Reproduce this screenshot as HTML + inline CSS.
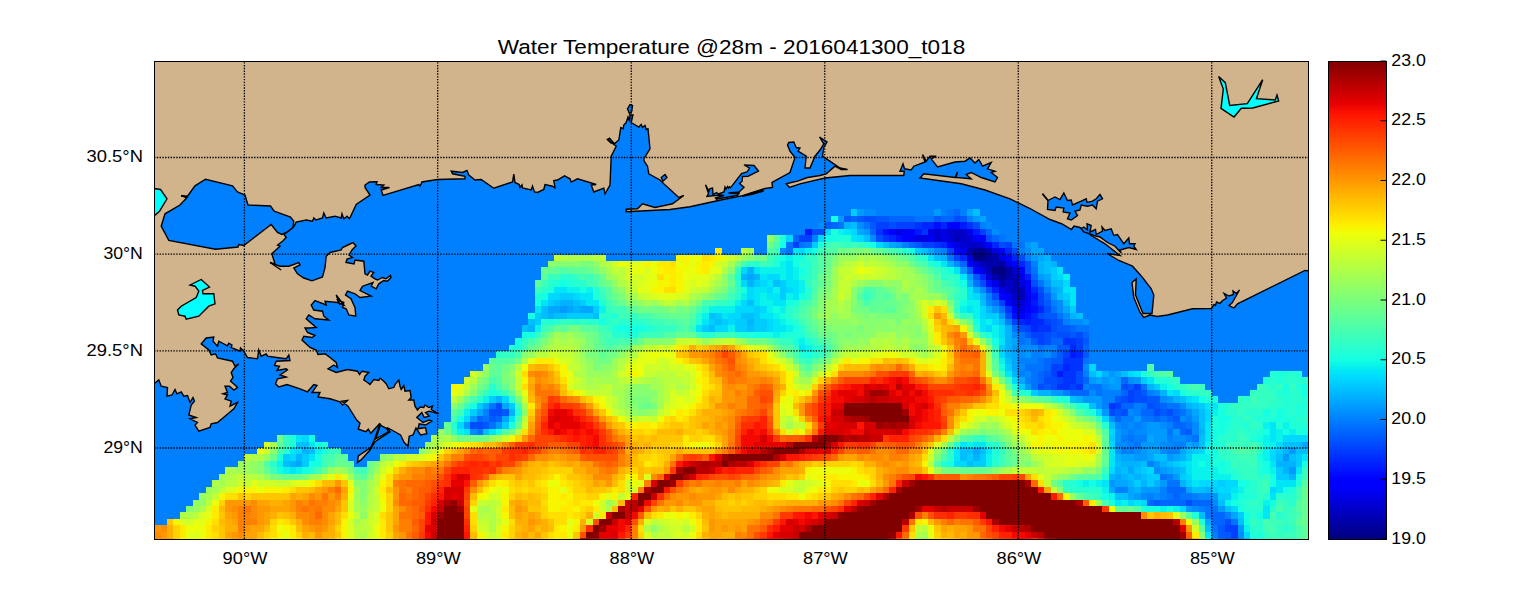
<!DOCTYPE html>
<html><head><meta charset="utf-8"><title>Water Temperature</title>
<style>
html,body{margin:0;padding:0;background:#fff;}
body{width:1539px;height:600px;overflow:hidden;font-family:"Liberation Sans",sans-serif;}
svg{display:block;font-family:"Liberation Sans",sans-serif;}
</style></head><body>
<svg width="1539" height="600" viewBox="0 0 1539 600">
<rect width="1539" height="600" fill="#fff"/>
<defs><clipPath id="pc"><rect x="154" y="61" width="1154" height="478"/></clipPath></defs>
<g clip-path="url(#pc)">
<rect x="154" y="61" width="1154" height="478" fill="#0080ff"/>
<g shape-rendering="crispEdges"><path fill="#000080" d="M973 255h13v6h-13zM992 267h13v7h-13z"/>
<path fill="#00008e" d="M973 248h13v7h-13zM999 274h6v6h-6z"/>
<path fill="#00009c" d="M986 255h6v6h-6zM999 261h6v6h-6zM1005 267h7v7h-7z"/>
<path fill="#0000ab" d="M967 248h6v7h-6zM986 248h6v7h-6zM992 255h7v6h-7zM986 261h13v6h-13zM992 274h7v6h-7zM1005 274h7v6h-7zM999 280h6v7h-6z"/>
<path fill="#0000b9" d="M954 235h6v7h-6zM980 261h6v6h-6zM986 267h6v7h-6zM1012 274h6v6h-6zM1012 280h6v7h-6zM1012 287h13v6h-13zM1018 293h7v7h-7z"/>
<path fill="#0000c8" d="M947 229h20v6h-20zM960 235h7v7h-7zM967 242h13v6h-13zM1012 267h6v7h-6zM1005 280h7v7h-7zM1005 287h7v6h-7zM1012 293h6v7h-6z"/>
<path fill="#0000d6" d="M934 229h7v6h-7zM934 235h7v7h-7zM947 235h7v7h-7zM967 235h6v7h-6zM960 242h7v6h-7zM980 242h6v6h-6zM967 255h6v6h-6zM973 261h7v6h-7zM986 274h6v6h-6zM1012 300h13v6h-13z"/>
<path fill="#0000e5" d="M896 229h6v6h-6zM928 229h6v6h-6zM941 229h6v6h-6zM915 235h13v7h-13zM941 235h6v7h-6zM954 242h6v6h-6zM992 248h7v7h-7zM999 255h6v6h-6zM1005 261h7v6h-7zM980 267h6v7h-6zM1018 274h7v6h-7zM992 280h7v7h-7zM1018 280h7v7h-7zM999 287h6v6h-6zM1018 306h7v7h-7z"/>
<path fill="#0000f3" d="M902 229h7v6h-7zM967 229h6v6h-6zM909 235h6v7h-6zM928 235h6v7h-6zM960 248h7v7h-7zM1005 293h7v7h-7zM1025 293h6v7h-6zM1025 300h6v6h-6z"/>
<path fill="#0000ff" d="M889 229h7v6h-7zM909 229h6v6h-6zM902 235h7v7h-7zM973 235h7v7h-7zM986 242h6v6h-6zM1012 261h6v6h-6zM1025 287h6v6h-6zM999 293h6v7h-6zM1012 306h6v7h-6z"/>
<path fill="#0000ff" d="M947 222h13v7h-13zM980 235h6v7h-6zM947 242h7v6h-7zM954 248h6v7h-6zM999 248h6v7h-6zM1005 255h7v6h-7zM967 261h6v6h-6zM973 267h7v7h-7zM1018 267h7v7h-7zM1025 280h6v7h-6zM1005 300h7v6h-7zM1025 306h6v7h-6zM1018 313h7v6h-7z"/>
<path fill="#000dff" d="M934 222h7v7h-7zM883 229h6v6h-6zM896 235h6v7h-6zM986 280h6v7h-6zM1031 293h7v7h-7zM1031 306h7v7h-7zM1012 313h6v6h-6zM1025 313h6v6h-6z"/>
<path fill="#001aff" d="M960 222h7v7h-7zM805 229h7v6h-7zM915 229h7v6h-7zM973 229h7v6h-7zM1025 274h6v6h-6zM992 287h7v6h-7zM1031 300h7v6h-7zM1025 319h6v6h-6zM1070 351h6v7h-6zM1057 371h6v6h-6z"/>
<path fill="#0026ff" d="M922 222h12v7h-12zM941 222h6v7h-6zM889 235h7v7h-7zM941 242h6v6h-6zM992 242h7v6h-7zM1005 248h7v7h-7zM960 255h7v6h-7zM1012 255h6v6h-6zM1018 261h7v6h-7zM980 274h6v6h-6zM1031 287h7v6h-7zM1038 306h6v7h-6zM1031 313h7v6h-7zM1018 319h7v6h-7zM1031 319h13v6h-13zM1031 325h7v7h-7zM1070 345h6v6h-6zM1076 351h7v7h-7zM1063 364h7v7h-7z"/>
<path fill="#0033ff" d="M915 222h7v7h-7zM967 222h6v7h-6zM876 229h7v6h-7zM922 229h6v6h-6zM883 235h6v7h-6zM934 242h7v6h-7zM1005 306h7v7h-7zM1038 325h13v7h-13zM1063 338h13v7h-13zM1063 358h20v6h-20zM1070 364h13v7h-13zM1063 371h13v6h-13zM1063 377h13v7h-13zM1057 384h13v6h-13zM1076 384h7v6h-7zM1109 403h6v6h-6z"/>
<path fill="#0040ff" d="M876 222h13v7h-13zM896 222h19v7h-19zM980 229h6v6h-6zM799 235h13v7h-13zM793 242h6v6h-6zM922 242h12v6h-12zM1005 242h7v6h-7zM947 248h7v7h-7zM954 255h6v6h-6zM1038 293h6v7h-6zM999 300h6v6h-6zM1038 300h6v6h-6zM1012 319h6v6h-6zM1044 319h7v6h-7zM1025 325h6v7h-6zM1031 332h13v6h-13zM1038 338h6v7h-6zM1076 338h7v7h-7zM1076 345h7v6h-7zM1063 351h7v7h-7zM1051 364h12v7h-12zM1051 371h6v6h-6zM1057 377h6v7h-6zM1070 384h6v6h-6zM1134 384h7v6h-7zM1128 390h6v6h-6zM1128 396h6v7h-6zM1115 403h6v6h-6zM1225 525h13v7h-13zM1231 532h7v6h-7z"/>
<path fill="#004dff" d="M864 216h12v6h-12zM954 216h6v6h-6zM889 222h7v7h-7zM973 222h7v7h-7zM812 229h13v6h-13zM876 235h7v7h-7zM986 235h6v7h-6zM999 242h6v6h-6zM1012 248h6v7h-6zM1018 255h7v6h-7zM1025 261h6v6h-6zM1025 267h6v7h-6zM980 280h6v7h-6zM1031 280h7v7h-7zM986 287h6v6h-6zM1038 287h6v6h-6zM992 293h7v7h-7zM1044 306h7v7h-7zM1005 313h7v6h-7zM1038 313h6v6h-6zM1051 319h6v6h-6zM1018 325h7v7h-7zM1051 325h6v7h-6zM1044 332h7v6h-7zM1057 332h13v6h-13zM1076 332h7v6h-7zM1044 338h7v7h-7zM1076 371h7v6h-7zM1044 377h13v7h-13zM1076 377h7v7h-7zM1038 384h6v6h-6zM1051 384h6v6h-6zM1121 384h7v6h-7zM1134 390h7v6h-7zM1121 396h7v7h-7zM1134 396h13v7h-13zM496 403h6v6h-6zM1147 403h7v6h-7zM489 409h13v7h-13zM1109 409h6v7h-6zM1121 409h7v7h-7zM1154 409h6v7h-6zM1167 409h6v7h-6zM470 422h13v7h-13zM1186 500h6v6h-6zM1225 519h6v6h-6zM1225 538h13v7h-13z"/>
<path fill="#0059ff" d="M844 216h7v6h-7zM857 216h7v6h-7zM876 216h13v6h-13zM934 216h7v6h-7zM960 216h7v6h-7zM825 222h6v7h-6zM870 222h6v7h-6zM915 242h7v6h-7zM967 267h6v7h-6zM973 274h7v6h-7zM1044 300h7v6h-7zM1044 313h13v6h-13zM1057 319h6v6h-6zM1057 325h13v7h-13zM1025 332h6v6h-6zM1051 332h6v6h-6zM1070 332h6v6h-6zM1031 338h7v7h-7zM1083 338h6v7h-6zM1057 345h13v6h-13zM1057 351h6v7h-6zM1083 351h6v7h-6zM1051 358h12v6h-12zM1044 371h7v6h-7zM1044 384h7v6h-7zM1128 384h6v6h-6zM1141 390h6v6h-6zM1115 396h6v7h-6zM1147 396h13v7h-13zM1154 403h6v6h-6zM502 409h7v7h-7zM1115 409h6v7h-6zM1160 409h7v7h-7zM489 416h7v6h-7zM1173 416h7v6h-7zM483 422h6v7h-6zM1186 429h6v6h-6zM1154 500h6v6h-6zM1218 525h7v7h-7zM1218 532h13v6h-13z"/>
<path fill="#0066ff" d="M954 209h6v7h-6zM851 216h6v6h-6zM889 216h26v6h-26zM941 216h13v6h-13zM831 222h7v7h-7zM870 229h6v6h-6zM986 229h6v6h-6zM793 235h6v7h-6zM992 235h7v7h-7zM909 242h6v6h-6zM960 261h7v6h-7zM1031 274h7v6h-7zM1044 293h7v7h-7zM1070 325h6v7h-6zM1083 332h6v6h-6zM1051 338h12v7h-12zM1083 345h6v6h-6zM1044 358h7v6h-7zM1044 364h7v7h-7zM1038 371h6v6h-6zM1038 377h6v7h-6zM1083 377h6v7h-6zM1121 377h7v7h-7zM1070 390h19v6h-19zM1121 390h7v6h-7zM1121 403h13v6h-13zM1160 403h7v6h-7zM1141 409h13v7h-13zM1173 409h7v7h-7zM477 416h6v6h-6zM496 416h6v6h-6zM1115 416h6v6h-6zM1154 416h6v6h-6zM1167 416h6v6h-6zM1173 422h13v7h-13zM1180 429h6v6h-6zM1167 487h19v6h-19zM1173 493h7v7h-7zM1147 500h7v6h-7zM1160 500h26v6h-26zM1192 500h20v6h-20zM1212 512h13v7h-13zM1212 519h13v6h-13z"/>
<path fill="#0073ff" d="M947 209h7v7h-7zM915 216h19v6h-19zM838 222h6v7h-6zM864 222h6v7h-6zM999 235h6v7h-6zM786 242h7v6h-7zM799 242h6v6h-6zM1012 242h13v6h-13zM786 248h7v7h-7zM947 255h7v6h-7zM1031 267h7v7h-7zM973 280h7v7h-7zM1038 280h6v7h-6zM992 300h7v6h-7zM999 306h6v7h-6zM1051 306h6v7h-6zM1057 313h6v6h-6zM1012 325h6v7h-6zM1076 325h13v7h-13zM1018 332h7v6h-7zM1018 338h7v7h-7zM1038 345h6v6h-6zM1051 351h6v7h-6zM1038 358h6v6h-6zM1083 358h6v6h-6zM1025 364h19v7h-19zM1031 371h7v6h-7zM1031 377h7v7h-7zM1031 384h7v6h-7zM1089 384h13v6h-13zM1141 384h6v6h-6zM1096 390h6v6h-6zM489 403h7v6h-7zM1141 403h6v6h-6zM1167 403h13v6h-13zM1180 409h6v7h-6zM483 416h6v6h-6zM1141 416h13v6h-13zM1160 416h7v6h-7zM489 422h7v7h-7zM1186 422h6v7h-6zM477 429h6v6h-6zM1167 429h6v6h-6zM1128 435h6v7h-6zM1192 435h7v7h-7zM1134 442h7v6h-7zM1160 474h7v6h-7zM1167 480h13v7h-13zM1167 493h6v7h-6zM1180 493h12v7h-12zM1205 506h13v6h-13zM1205 512h7v7h-7zM1231 519h7v6h-7zM1212 525h6v7h-6zM1218 538h7v7h-7z"/>
<path fill="#0080ff" d="M941 209h6v7h-6zM960 209h7v7h-7zM967 216h6v6h-6zM980 222h6v7h-6zM812 235h6v7h-6zM805 242h7v6h-7zM902 242h7v6h-7zM941 248h6v7h-6zM1018 248h7v7h-7zM1025 255h6v6h-6zM1031 261h7v6h-7zM1044 287h7v6h-7zM986 293h6v7h-6zM1051 300h6v6h-6zM1005 319h7v6h-7zM1063 319h7v6h-7zM1025 338h6v7h-6zM1044 345h13v6h-13zM1031 351h13v7h-13zM1018 358h20v6h-20zM1018 371h7v6h-7zM1083 371h6v6h-6zM1025 377h6v7h-6zM1083 384h6v6h-6zM1063 390h7v6h-7zM1102 390h19v6h-19zM1147 390h7v6h-7zM1102 396h13v7h-13zM1102 403h7v6h-7zM1134 403h7v6h-7zM483 409h6v7h-6zM1134 409h7v7h-7zM1121 416h13v6h-13zM1186 416h6v6h-6zM1121 422h7v7h-7zM1134 422h7v7h-7zM1167 422h6v7h-6zM1128 429h6v6h-6zM1121 435h7v7h-7zM1134 435h13v7h-13zM1167 435h6v7h-6zM1186 435h6v7h-6zM1128 442h6v6h-6zM1173 442h13v6h-13zM1121 448h13v6h-13zM1167 448h13v6h-13zM1147 461h7v6h-7zM1167 474h6v6h-6zM1115 487h13v6h-13zM1160 487h7v6h-7zM1147 493h7v7h-7zM1160 493h7v7h-7zM1192 493h7v7h-7zM1199 506h6v6h-6zM1225 512h6v7h-6zM1212 532h6v6h-6z"/>
<path fill="#008cff" d="M864 209h12v7h-12zM818 222h7v7h-7zM857 222h7v7h-7zM986 222h6v7h-6zM992 229h7v6h-7zM870 235h6v7h-6zM780 248h6v7h-6zM934 248h7v7h-7zM1025 248h6v7h-6zM954 261h6v6h-6zM980 287h6v6h-6zM986 300h6v6h-6zM1057 300h6v6h-6zM1057 306h6v7h-6zM1063 313h7v6h-7zM1070 319h13v6h-13zM1012 332h6v6h-6zM1018 345h20v6h-20zM1018 351h7v7h-7zM1044 351h7v7h-7zM1018 364h7v7h-7zM1083 364h6v7h-6zM1025 371h6v6h-6zM1128 377h6v7h-6zM1102 384h7v6h-7zM1089 390h7v6h-7zM1154 390h6v6h-6zM1160 396h7v7h-7zM1180 403h6v6h-6zM1128 409h6v7h-6zM1186 409h6v7h-6zM1109 416h6v6h-6zM1180 416h6v6h-6zM1115 422h6v7h-6zM1128 422h6v7h-6zM1141 422h6v7h-6zM1160 422h7v7h-7zM1192 422h7v7h-7zM470 429h7v6h-7zM1121 429h7v6h-7zM1134 429h13v6h-13zM1192 429h7v6h-7zM1173 435h13v7h-13zM1115 442h13v6h-13zM1160 442h13v6h-13zM1134 448h7v6h-7zM1160 448h7v6h-7zM1154 467h6v7h-6zM1141 493h6v7h-6zM1154 493h6v7h-6zM1199 493h13v7h-13zM1212 500h6v6h-6zM1192 506h7v6h-7zM1238 532h6v6h-6zM1238 538h6v7h-6z"/>
<path fill="#0099ff" d="M857 209h7v7h-7zM934 209h7v7h-7zM838 216h6v6h-6zM973 216h7v6h-7zM864 229h6v6h-6zM896 242h6v6h-6zM1025 242h6v6h-6zM1031 255h7v6h-7zM960 267h7v7h-7zM967 274h6v6h-6zM1038 274h6v6h-6zM1044 280h7v7h-7zM1051 293h6v7h-6zM560 306h7v7h-7zM992 306h7v7h-7zM999 313h6v6h-6zM1083 319h6v6h-6zM1012 345h6v6h-6zM1025 351h6v7h-6zM1109 371h6v6h-6zM1089 377h7v7h-7zM1102 377h7v7h-7zM1115 377h6v7h-6zM1134 377h7v7h-7zM1025 384h6v6h-6zM1109 384h12v6h-12zM1051 390h12v6h-12zM1083 396h19v7h-19zM1167 396h6v7h-6zM1096 403h6v6h-6zM1102 409h7v7h-7zM470 416h7v6h-7zM1134 416h7v6h-7zM1192 416h7v6h-7zM464 422h6v7h-6zM496 422h6v7h-6zM1147 422h13v7h-13zM1115 429h6v6h-6zM1147 429h20v6h-20zM1173 429h7v6h-7zM1115 435h6v7h-6zM1154 435h13v7h-13zM1141 442h19v6h-19zM1192 442h7v6h-7zM1115 448h6v6h-6zM1141 448h6v6h-6zM1289 448h7v6h-7zM1134 454h13v7h-13zM1167 454h6v7h-6zM1283 454h6v7h-6zM1154 461h6v6h-6zM1160 467h7v7h-7zM1289 467h7v7h-7zM1173 474h7v6h-7zM1109 480h6v7h-6zM1160 480h7v7h-7zM1141 487h19v6h-19zM1134 493h7v7h-7zM1212 493h6v7h-6zM1186 506h6v6h-6zM1218 506h7v6h-7zM1238 525h6v7h-6zM1212 538h6v7h-6z"/>
<path fill="#00a6ff" d="M967 209h6v7h-6zM980 216h6v6h-6zM857 229h7v6h-7zM889 242h7v6h-7zM1031 242h7v6h-7zM928 248h6v7h-6zM1031 248h13v7h-13zM1038 255h6v6h-6zM747 274h7v6h-7zM1044 274h7v6h-7zM1051 287h6v6h-6zM548 306h12v7h-12zM567 306h6v7h-6zM580 306h13v7h-13zM1063 306h7v7h-7zM1012 338h6v7h-6zM1012 351h6v7h-6zM1012 358h6v6h-6zM1012 364h6v7h-6zM1115 371h6v6h-6zM1018 377h7v7h-7zM1096 377h6v7h-6zM1109 377h6v7h-6zM483 403h6v6h-6zM502 403h7v6h-7zM477 409h6v7h-6zM1192 409h7v7h-7zM502 416h7v6h-7zM1147 435h7v7h-7zM1186 442h6v6h-6zM1302 442h6v6h-6zM973 448h7v6h-7zM1147 448h13v6h-13zM1180 448h6v6h-6zM1121 454h13v7h-13zM1147 454h7v7h-7zM1173 454h7v7h-7zM296 461h6v6h-6zM1128 467h6v7h-6zM1167 467h6v7h-6zM1115 474h6v6h-6zM1115 480h13v7h-13zM1109 487h6v6h-6zM1128 487h6v6h-6zM1186 487h6v6h-6zM1128 493h6v7h-6zM1231 512h7v7h-7zM1205 519h7v6h-7z"/>
<path fill="#00b3ff" d="M844 222h7v7h-7zM941 255h6v6h-6zM1044 255h7v6h-7zM947 261h7v6h-7zM1038 261h6v6h-6zM1051 261h6v6h-6zM747 267h7v7h-7zM1038 267h6v7h-6zM741 274h6v6h-6zM754 274h6v6h-6zM747 280h7v7h-7zM967 280h6v7h-6zM973 287h7v6h-7zM1057 287h6v6h-6zM980 293h6v7h-6zM560 300h13v6h-13zM573 306h7v7h-7zM986 306h6v7h-6zM548 313h6v6h-6zM1070 313h6v6h-6zM747 319h7v6h-7zM528 325h7v7h-7zM1005 325h7v7h-7zM1005 332h7v6h-7zM1005 338h7v7h-7zM1005 345h7v6h-7zM1005 351h7v7h-7zM1012 371h6v6h-6zM1102 371h7v6h-7zM1147 384h7v6h-7zM1038 390h13v6h-13zM1160 390h7v6h-7zM496 396h6v7h-6zM1076 396h7v7h-7zM1173 396h7v7h-7zM1186 403h6v6h-6zM509 409h6v7h-6zM1199 429h6v6h-6zM302 448h7v6h-7zM1283 448h6v6h-6zM296 454h6v7h-6zM973 454h7v7h-7zM1115 454h6v7h-6zM1180 454h6v7h-6zM290 461h6v6h-6zM1121 461h20v6h-20zM1160 461h7v6h-7zM1276 461h20v6h-20zM1115 467h6v7h-6zM1173 467h7v7h-7zM1283 467h6v7h-6zM1109 474h6v6h-6zM1121 474h7v6h-7zM1134 474h7v6h-7zM1289 474h7v6h-7zM1128 480h6v7h-6zM1141 480h6v7h-6zM1154 480h6v7h-6zM1180 480h6v7h-6zM1134 487h7v6h-7zM1205 487h7v6h-7z"/>
<path fill="#00bfff" d="M973 209h7v7h-7zM851 222h6v7h-6zM864 235h6v7h-6zM883 242h6v6h-6zM922 248h6v7h-6zM934 255h7v6h-7zM1044 261h7v6h-7zM1044 267h7v7h-7zM773 280h7v7h-7zM1051 280h12v7h-12zM1057 293h6v7h-6zM554 300h6v6h-6zM573 300h7v6h-7zM747 300h7v6h-7zM980 300h6v6h-6zM1063 300h7v6h-7zM541 306h7v7h-7zM541 313h7v6h-7zM554 313h13v6h-13zM593 313h6v6h-6zM709 313h6v6h-6zM741 313h13v6h-13zM1076 313h7v6h-7zM528 319h7v6h-7zM715 319h7v6h-7zM999 319h6v6h-6zM522 325h6v7h-6zM709 325h6v7h-6zM747 325h7v7h-7zM1005 358h7v6h-7zM1089 371h7v6h-7zM1121 371h7v6h-7zM1070 396h6v7h-6zM1180 396h6v7h-6zM1089 403h7v6h-7zM1192 403h7v6h-7zM1199 409h6v7h-6zM1199 416h6v6h-6zM1109 422h6v7h-6zM1199 422h6v7h-6zM483 429h6v6h-6zM1199 435h6v7h-6zM296 442h13v6h-13zM1199 442h6v6h-6zM1283 442h19v6h-19zM309 448h6v6h-6zM960 448h13v6h-13zM980 448h6v6h-6zM1186 448h6v6h-6zM1296 448h12v6h-12zM960 454h7v7h-7zM1154 454h13v7h-13zM1276 454h7v7h-7zM1289 454h7v7h-7zM283 461h7v6h-7zM967 461h6v6h-6zM1115 461h6v6h-6zM1141 461h6v6h-6zM1167 461h6v6h-6zM1121 467h7v7h-7zM1134 467h7v7h-7zM1180 467h6v7h-6zM1128 474h6v6h-6zM1141 474h6v6h-6zM1192 487h13v6h-13zM1115 493h13v7h-13zM1218 500h7v6h-7zM1225 506h6v6h-6zM1199 512h6v7h-6zM1238 519h6v6h-6zM1205 525h7v7h-7zM1244 538h6v7h-6z"/>
<path fill="#00ccff" d="M851 209h6v7h-6zM812 242h6v6h-6zM915 248h7v7h-7zM1051 267h6v7h-6zM1051 274h6v6h-6zM754 280h6v7h-6zM780 280h6v7h-6zM780 287h6v6h-6zM560 293h13v7h-13zM780 293h6v7h-6zM1063 293h7v7h-7zM548 300h6v6h-6zM580 300h6v6h-6zM593 306h6v7h-6zM754 306h6v7h-6zM1070 306h6v7h-6zM535 313h6v6h-6zM567 313h26v6h-26zM715 313h7v6h-7zM754 313h6v6h-6zM986 313h13v6h-13zM535 319h6v6h-6zM709 319h6v6h-6zM722 319h6v6h-6zM735 319h12v6h-12zM754 319h13v6h-13zM702 325h7v7h-7zM735 325h12v7h-12zM754 325h13v7h-13zM999 345h6v6h-6zM1005 364h7v7h-7zM1141 377h6v7h-6zM1018 384h7v6h-7zM1154 384h6v6h-6zM1031 390h7v6h-7zM489 396h7v7h-7zM477 403h6v6h-6zM509 403h6v6h-6zM1199 403h6v6h-6zM470 409h7v7h-7zM502 422h7v7h-7zM1109 435h6v7h-6zM1192 448h7v6h-7zM1276 448h7v6h-7zM283 454h7v7h-7zM302 454h7v7h-7zM967 454h6v7h-6zM980 454h6v7h-6zM1186 454h6v7h-6zM1296 454h6v7h-6zM302 461h7v6h-7zM973 461h13v6h-13zM1173 461h7v6h-7zM1296 461h6v6h-6zM1141 467h6v7h-6zM1276 467h7v7h-7zM1147 474h13v6h-13zM1180 474h6v6h-6zM1276 474h13v6h-13zM1134 480h7v7h-7zM1147 480h7v7h-7zM1186 480h6v7h-6zM1218 480h7v7h-7zM1212 487h6v6h-6zM1218 493h13v7h-13zM1238 512h6v7h-6z"/>
<path fill="#00d9ff" d="M825 229h6v6h-6zM851 229h6v6h-6zM786 235h7v7h-7zM818 235h7v7h-7zM857 235h7v7h-7zM876 242h7v6h-7zM799 248h6v7h-6zM741 267h6v7h-6zM767 274h13v6h-13zM1057 274h6v6h-6zM741 280h6v7h-6zM760 280h7v7h-7zM1063 280h7v7h-7zM747 287h7v6h-7zM767 287h6v6h-6zM786 287h7v6h-7zM548 293h12v7h-12zM573 293h7v7h-7zM747 293h7v7h-7zM973 293h7v7h-7zM741 300h6v6h-6zM735 306h19v7h-19zM760 306h7v7h-7zM980 306h6v7h-6zM728 313h13v6h-13zM980 313h6v6h-6zM728 319h7v6h-7zM767 319h6v6h-6zM992 319h7v6h-7zM715 325h13v7h-13zM767 325h6v7h-6zM986 325h6v7h-6zM999 325h6v7h-6zM999 332h6v6h-6zM999 351h6v7h-6zM1089 364h7v7h-7zM1096 371h6v6h-6zM1128 371h6v6h-6zM1012 377h6v7h-6zM1173 390h7v6h-7zM502 396h7v7h-7zM1186 396h6v7h-6zM1096 409h6v7h-6zM1205 409h7v7h-7zM464 416h6v6h-6zM1102 416h7v6h-7zM1205 416h7v6h-7zM457 422h7v7h-7zM1109 429h6v6h-6zM302 435h7v7h-7zM1283 435h25v7h-25zM1109 442h6v6h-6zM1276 442h7v6h-7zM296 448h6v6h-6zM1199 448h6v6h-6zM1270 448h6v6h-6zM290 454h6v7h-6zM1270 454h6v7h-6zM954 461h13v6h-13zM1180 461h6v6h-6zM1109 467h6v7h-6zM1147 467h7v7h-7zM1186 474h6v6h-6zM1199 480h19v7h-19zM1225 480h13v7h-13zM1218 487h13v6h-13zM1270 487h6v6h-6zM1128 500h6v6h-6zM1141 500h6v6h-6zM1180 506h6v6h-6zM1231 506h7v6h-7zM1244 532h6v6h-6z"/>
<path fill="#00e6f7" d="M844 229h7v6h-7zM851 235h6v7h-6zM793 248h6v7h-6zM928 255h6v6h-6zM786 261h7v6h-7zM941 261h6v6h-6zM754 267h6v7h-6zM786 267h7v7h-7zM954 267h6v7h-6zM1057 267h6v7h-6zM760 274h7v6h-7zM786 274h7v6h-7zM960 274h7v6h-7zM767 280h6v7h-6zM786 280h13v7h-13zM554 287h13v6h-13zM754 287h13v6h-13zM793 287h6v6h-6zM967 287h6v6h-6zM1063 287h13v6h-13zM580 293h13v7h-13zM754 293h6v7h-6zM767 293h13v7h-13zM793 293h6v7h-6zM967 293h6v7h-6zM1070 293h6v7h-6zM541 300h7v6h-7zM586 300h13v6h-13zM754 300h6v6h-6zM773 300h13v6h-13zM1070 300h6v6h-6zM535 306h6v7h-6zM967 306h6v7h-6zM722 313h6v6h-6zM760 313h13v6h-13zM702 319h7v6h-7zM773 319h7v6h-7zM980 319h6v6h-6zM696 325h6v7h-6zM773 325h13v7h-13zM980 325h6v7h-6zM999 338h6v7h-6zM799 345h6v6h-6zM1005 371h7v6h-7zM1134 371h7v6h-7zM1147 377h7v7h-7zM1167 390h6v6h-6zM1192 396h7v7h-7zM1205 403h13v6h-13zM509 416h6v6h-6zM1205 422h7v7h-7zM1270 422h6v7h-6zM464 429h6v6h-6zM489 429h7v6h-7zM1205 429h7v6h-7zM1270 429h6v6h-6zM296 435h6v7h-6zM1205 435h7v7h-7zM1270 435h6v7h-6zM309 442h6v6h-6zM960 442h7v6h-7zM973 442h13v6h-13zM290 448h6v6h-6zM954 448h6v6h-6zM986 448h6v6h-6zM1109 448h6v6h-6zM309 454h6v7h-6zM954 454h6v7h-6zM1109 454h6v7h-6zM1302 454h6v7h-6zM1109 461h6v6h-6zM1186 461h6v6h-6zM1270 461h6v6h-6zM290 467h6v7h-6zM1186 467h6v7h-6zM1296 467h6v7h-6zM1102 480h7v7h-7zM1192 480h7v7h-7zM1276 480h20v7h-20zM1231 487h7v6h-7zM1276 487h7v6h-7zM1270 493h6v7h-6zM1115 500h6v6h-6zM1134 500h7v6h-7zM1263 506h7v6h-7zM1263 512h7v7h-7zM1205 532h7v6h-7z"/>
<path fill="#0af2ec" d="M838 229h6v6h-6zM805 248h7v7h-7zM786 255h7v6h-7zM780 261h6v6h-6zM760 267h26v7h-26zM793 267h6v7h-6zM780 274h6v6h-6zM793 274h6v6h-6zM1063 274h7v6h-7zM799 280h6v7h-6zM567 287h13v6h-13zM586 287h7v6h-7zM773 287h7v6h-7zM799 287h6v6h-6zM741 293h6v7h-6zM760 293h7v7h-7zM786 293h7v7h-7zM735 300h6v6h-6zM760 300h13v6h-13zM967 300h13v6h-13zM599 306h7v7h-7zM709 306h26v7h-26zM767 306h6v7h-6zM780 306h6v7h-6zM960 306h7v7h-7zM973 306h7v7h-7zM702 313h7v6h-7zM773 313h7v6h-7zM973 313h7v6h-7zM780 319h6v6h-6zM986 319h6v6h-6zM535 325h6v7h-6zM728 325h7v7h-7zM786 325h7v7h-7zM992 325h7v7h-7zM773 332h7v6h-7zM992 332h7v6h-7zM799 338h6v7h-6zM805 345h7v6h-7zM999 358h6v6h-6zM1160 384h7v6h-7zM483 396h6v7h-6zM464 409h6v7h-6zM1212 409h6v7h-6zM1263 422h7v7h-7zM1283 422h6v7h-6zM457 429h7v6h-7zM1276 429h7v6h-7zM1289 429h7v6h-7zM1263 435h7v7h-7zM1276 435h7v7h-7zM967 442h6v6h-6zM1205 442h7v6h-7zM1263 442h13v6h-13zM315 448h7v6h-7zM1263 448h7v6h-7zM986 454h6v7h-6zM1192 454h20v7h-20zM1263 454h7v7h-7zM277 461h6v6h-6zM986 461h6v6h-6zM1192 461h7v6h-7zM1205 461h7v6h-7zM283 467h7v7h-7zM296 467h6v7h-6zM1192 467h26v7h-26zM1270 467h6v7h-6zM1192 474h39v6h-39zM1083 480h6v7h-6zM1096 480h6v7h-6zM1102 487h7v6h-7zM1238 487h6v6h-6zM1109 493h6v7h-6zM1231 493h7v7h-7zM1121 500h7v6h-7zM1225 500h6v6h-6zM1263 500h7v6h-7zM1160 506h7v6h-7zM1173 506h7v6h-7zM1244 525h6v7h-6z"/>
<path fill="#15ffe2" d="M831 216h7v6h-7zM825 235h13v7h-13zM780 242h6v6h-6zM870 242h6v6h-6zM812 248h6v7h-6zM909 248h6v7h-6zM780 255h6v6h-6zM793 255h12v6h-12zM793 261h6v6h-6zM934 261h7v6h-7zM799 267h6v7h-6zM947 267h7v7h-7zM560 280h7v7h-7zM960 280h7v7h-7zM580 287h6v6h-6zM741 287h6v6h-6zM541 293h7v7h-7zM799 293h6v7h-6zM535 300h6v6h-6zM786 300h7v6h-7zM960 300h7v6h-7zM773 306h7v7h-7zM528 313h7v6h-7zM780 313h6v6h-6zM599 319h7v6h-7zM786 319h7v6h-7zM973 319h7v6h-7zM618 325h26v7h-26zM793 325h6v7h-6zM522 332h13v6h-13zM754 332h19v6h-19zM780 332h6v6h-6zM515 338h7v7h-7zM793 338h6v7h-6zM992 338h7v7h-7zM805 351h7v7h-7zM999 364h6v7h-6zM1167 384h6v6h-6zM1283 384h6v6h-6zM1302 384h6v6h-6zM489 390h7v6h-7zM1180 390h6v6h-6zM1302 390h6v6h-6zM1199 396h6v7h-6zM1212 396h6v7h-6zM470 403h7v6h-7zM1083 403h6v6h-6zM1218 409h7v7h-7zM1263 409h7v7h-7zM1276 409h7v7h-7zM457 416h7v6h-7zM1218 416h13v6h-13zM1276 416h7v6h-7zM1218 422h7v7h-7zM496 429h6v6h-6zM1212 429h13v6h-13zM1263 429h7v6h-7zM1283 429h6v6h-6zM1302 429h6v6h-6zM309 435h6v7h-6zM1212 435h6v7h-6zM1257 435h6v7h-6zM315 442h7v6h-7zM322 448h6v6h-6zM1205 448h13v6h-13zM315 454h7v7h-7zM1212 454h6v7h-6zM1257 454h6v7h-6zM309 461h13v6h-13zM947 461h7v6h-7zM1199 461h6v6h-6zM1218 461h7v6h-7zM1263 461h7v6h-7zM1302 461h6v6h-6zM277 467h6v7h-6zM302 467h7v7h-7zM1218 467h7v7h-7zM1263 467h7v7h-7zM1270 474h6v6h-6zM1296 474h6v6h-6zM1076 480h7v7h-7zM1089 480h7v7h-7zM1238 480h12v7h-12zM1270 480h6v7h-6zM1283 487h6v6h-6zM1102 493h7v7h-7zM1238 493h6v7h-6zM1109 500h6v6h-6zM1231 500h7v6h-7zM1270 500h6v6h-6zM1147 506h13v6h-13zM1167 506h6v6h-6zM1238 506h6v6h-6zM1244 512h6v7h-6zM1257 512h6v7h-6zM1244 519h6v6h-6zM1250 538h7v7h-7z"/>
<path fill="#1fffd8" d="M831 229h7v6h-7zM780 235h6v7h-6zM838 235h13v7h-13zM818 242h7v6h-7zM773 261h7v6h-7zM805 261h7v6h-7zM735 274h6v6h-6zM799 274h6v6h-6zM554 280h6v7h-6zM567 280h6v7h-6zM548 287h6v6h-6zM593 287h6v6h-6zM805 287h7v6h-7zM535 293h6v7h-6zM593 293h6v7h-6zM599 300h7v6h-7zM793 300h6v6h-6zM612 313h6v6h-6zM548 319h6v6h-6zM696 319h6v6h-6zM612 325h6v7h-6zM644 325h7v7h-7zM625 332h13v6h-13zM741 332h13v6h-13zM786 332h19v6h-19zM986 332h6v6h-6zM805 338h7v7h-7zM509 345h13v6h-13zM812 345h6v6h-6zM799 351h6v7h-6zM1141 371h6v6h-6zM1270 371h19v6h-19zM1296 371h6v6h-6zM1154 377h13v7h-13zM1263 377h7v7h-7zM1276 377h7v7h-7zM1012 384h6v6h-6zM1296 384h6v6h-6zM496 390h6v6h-6zM1025 390h6v6h-6zM1276 390h13v6h-13zM1057 396h13v7h-13zM1205 396h7v7h-7zM1283 396h6v7h-6zM1302 396h6v7h-6zM1076 403h7v6h-7zM1218 403h7v6h-7zM1283 403h6v6h-6zM1296 403h12v6h-12zM515 409h7v7h-7zM1089 409h7v7h-7zM1283 409h6v7h-6zM1296 409h12v7h-12zM1212 416h6v6h-6zM1257 416h19v6h-19zM1283 416h13v6h-13zM451 422h6v7h-6zM509 422h6v7h-6zM1212 422h6v7h-6zM1225 422h6v7h-6zM1244 422h6v7h-6zM1276 422h7v7h-7zM1289 422h19v7h-19zM1257 429h6v6h-6zM1296 429h6v6h-6zM290 435h6v7h-6zM1250 435h7v7h-7zM290 442h6v6h-6zM322 442h6v6h-6zM986 442h6v6h-6zM1212 442h13v6h-13zM992 448h7v6h-7zM277 454h6v7h-6zM992 454h7v7h-7zM941 461h6v6h-6zM1212 461h6v6h-6zM1225 461h6v6h-6zM1257 461h6v6h-6zM1225 467h6v7h-6zM1257 467h6v7h-6zM1102 474h7v6h-7zM1231 474h7v6h-7zM1296 480h6v7h-6zM1244 487h6v6h-6zM1289 487h7v6h-7zM1244 493h13v7h-13zM1238 500h6v6h-6zM1141 506h6v6h-6zM1192 512h7v7h-7zM1199 519h6v6h-6zM1250 532h13v6h-13zM1205 538h7v7h-7zM1257 538h6v7h-6z"/>
<path fill="#29ffce" d="M864 242h6v6h-6zM902 248h7v7h-7zM773 255h7v6h-7zM922 255h6v6h-6zM747 261h13v6h-13zM799 261h6v6h-6zM928 261h6v6h-6zM805 267h7v7h-7zM941 267h6v7h-6zM560 274h13v6h-13zM805 274h7v6h-7zM941 274h6v6h-6zM954 274h6v6h-6zM548 280h6v7h-6zM573 280h13v7h-13zM735 280h6v7h-6zM954 280h6v7h-6zM541 287h7v6h-7zM960 287h7v6h-7zM735 293h6v7h-6zM805 293h7v7h-7zM960 293h7v7h-7zM728 300h7v6h-7zM702 306h7v7h-7zM786 306h7v7h-7zM599 313h13v6h-13zM696 313h6v6h-6zM786 313h7v6h-7zM541 319h7v6h-7zM554 319h6v6h-6zM573 319h7v6h-7zM586 319h13v6h-13zM606 319h6v6h-6zM618 319h26v6h-26zM793 319h6v6h-6zM651 325h6v7h-6zM799 325h6v7h-6zM973 325h7v7h-7zM612 332h13v6h-13zM702 332h13v6h-13zM735 332h6v6h-6zM818 345h7v6h-7zM496 351h6v7h-6zM812 351h6v7h-6zM1289 371h7v6h-7zM1167 377h6v7h-6zM1270 377h6v7h-6zM1283 377h25v7h-25zM489 384h7v6h-7zM1173 384h7v6h-7zM1270 384h6v6h-6zM1018 390h7v6h-7zM1186 390h13v6h-13zM1289 390h13v6h-13zM477 396h6v7h-6zM1244 396h6v7h-6zM1276 396h7v7h-7zM1289 396h13v7h-13zM1225 403h6v6h-6zM1270 403h13v6h-13zM1289 403h7v6h-7zM1225 409h13v7h-13zM1244 409h19v7h-19zM1270 409h6v7h-6zM1289 409h7v7h-7zM1231 416h13v6h-13zM1250 416h7v6h-7zM1296 416h12v6h-12zM1102 422h7v7h-7zM1231 422h13v7h-13zM1257 422h6v7h-6zM1225 429h13v6h-13zM1244 429h13v6h-13zM1218 435h20v7h-20zM954 442h6v6h-6zM992 442h7v6h-7zM1257 442h6v6h-6zM283 448h7v6h-7zM947 448h7v6h-7zM1257 448h6v6h-6zM947 454h7v7h-7zM1218 454h7v7h-7zM270 461h7v6h-7zM992 461h7v6h-7zM309 467h6v7h-6zM1231 467h7v7h-7zM1238 474h6v6h-6zM1257 474h6v6h-6zM1063 480h13v7h-13zM1250 480h7v7h-7zM1070 487h32v6h-32zM1250 487h7v6h-7zM1263 493h7v7h-7zM1276 493h20v7h-20zM1244 500h6v6h-6zM1257 500h6v6h-6zM1289 500h7v6h-7zM1244 506h19v6h-19zM1270 506h6v6h-6zM1250 512h7v7h-7zM1276 512h7v7h-7zM1257 519h6v6h-6zM1250 525h13v7h-13zM1283 525h6v7h-6zM1283 538h6v7h-6z"/>
<path fill="#33ffc3" d="M844 242h7v6h-7zM857 242h7v6h-7zM805 255h13v6h-13zM915 255h7v6h-7zM767 261h6v6h-6zM735 267h6v7h-6zM548 274h6v6h-6zM573 274h7v6h-7zM947 274h7v6h-7zM805 280h7v7h-7zM735 287h6v6h-6zM599 293h7v7h-7zM864 293h6v7h-6zM954 293h6v7h-6zM715 300h13v6h-13zM606 306h6v7h-6zM793 306h6v7h-6zM954 306h6v7h-6zM631 313h7v6h-7zM960 313h13v6h-13zM560 319h13v6h-13zM580 319h6v6h-6zM612 319h6v6h-6zM644 319h7v6h-7zM606 325h6v7h-6zM657 325h19v7h-19zM689 325h7v7h-7zM535 332h6v6h-6zM638 332h6v6h-6zM980 332h6v6h-6zM522 338h6v7h-6zM780 338h13v7h-13zM812 338h6v7h-6zM793 345h6v6h-6zM992 345h7v6h-7zM502 351h13v7h-13zM818 351h7v7h-7zM805 358h7v6h-7zM1147 371h7v6h-7zM1173 377h7v7h-7zM1180 384h6v6h-6zM1263 384h7v6h-7zM1276 384h7v6h-7zM1289 384h7v6h-7zM483 390h6v6h-6zM1199 390h13v6h-13zM1250 390h26v6h-26zM509 396h6v7h-6zM1051 396h6v7h-6zM1238 396h6v7h-6zM1257 396h19v7h-19zM1231 403h39v6h-39zM1083 409h6v7h-6zM1238 409h6v7h-6zM1244 416h6v6h-6zM1250 422h7v7h-7zM451 429h6v6h-6zM1238 429h6v6h-6zM283 435h7v7h-7zM973 435h13v7h-13zM1244 435h6v7h-6zM283 442h7v6h-7zM1244 442h6v6h-6zM328 448h7v6h-7zM999 448h6v6h-6zM1218 448h13v6h-13zM1225 454h13v7h-13zM1238 461h12v6h-12zM1238 467h19v7h-19zM1302 467h6v7h-6zM1244 474h13v6h-13zM1263 474h7v6h-7zM1257 480h6v7h-6zM1063 487h7v6h-7zM1257 487h6v6h-6zM1096 493h6v7h-6zM1257 493h6v7h-6zM1250 500h7v6h-7zM1283 500h6v6h-6zM1283 506h6v6h-6zM1283 512h6v7h-6zM1250 519h7v6h-7zM1283 519h6v6h-6zM1276 525h7v7h-7zM1289 525h7v7h-7zM1263 532h7v6h-7zM1276 532h7v6h-7zM1289 538h7v7h-7z"/>
<path fill="#3effb9" d="M825 242h6v6h-6zM838 242h6v6h-6zM851 242h6v6h-6zM773 248h7v7h-7zM818 248h7v7h-7zM896 248h6v7h-6zM767 255h6v6h-6zM741 261h6v6h-6zM760 261h7v6h-7zM812 261h6v6h-6zM812 267h6v7h-6zM934 267h7v7h-7zM554 274h6v6h-6zM586 274h7v6h-7zM812 274h6v6h-6zM541 280h7v7h-7zM586 280h7v7h-7zM947 280h7v7h-7zM535 287h6v6h-6zM599 287h7v6h-7zM954 287h6v6h-6zM728 293h7v7h-7zM606 300h6v6h-6zM799 300h6v6h-6zM954 300h6v6h-6zM612 306h13v7h-13zM618 313h13v6h-13zM793 313h6v6h-6zM651 319h13v6h-13zM799 319h6v6h-6zM541 325h7v7h-7zM599 325h7v7h-7zM644 332h20v6h-20zM696 332h6v6h-6zM715 332h20v6h-20zM805 332h7v6h-7zM606 338h12v7h-12zM522 345h6v6h-6zM992 351h7v7h-7zM799 358h6v6h-6zM999 371h6v6h-6zM1005 377h7v7h-7zM1186 384h6v6h-6zM1199 384h6v6h-6zM1257 384h6v6h-6zM502 390h7v6h-7zM1250 396h7v7h-7zM464 403h6v6h-6zM515 403h7v6h-7zM457 409h7v7h-7zM1096 416h6v6h-6zM1238 435h6v7h-6zM1225 442h19v6h-19zM335 448h6v6h-6zM322 454h6v7h-6zM999 454h6v7h-6zM1238 454h19v7h-19zM322 461h6v6h-6zM999 461h6v6h-6zM1231 461h7v6h-7zM1250 461h7v6h-7zM270 467h7v7h-7zM360 467h7v7h-7zM1102 467h7v7h-7zM1302 474h6v6h-6zM1263 480h7v7h-7zM1263 487h7v6h-7zM1296 487h6v6h-6zM1089 493h7v7h-7zM1296 493h6v7h-6zM1276 500h7v6h-7zM1289 506h7v6h-7zM1289 512h7v7h-7zM1270 519h13v6h-13zM1289 519h7v6h-7zM1263 525h7v7h-7zM1270 532h6v6h-6zM1283 532h13v6h-13zM1263 538h13v7h-13z"/>
<path fill="#48ffaf" d="M773 242h7v6h-7zM831 242h7v6h-7zM889 248h7v7h-7zM922 261h6v6h-6zM580 274h6v6h-6zM593 280h6v7h-6zM812 280h6v7h-6zM941 280h6v7h-6zM812 287h6v6h-6zM864 287h12v6h-12zM870 293h6v7h-6zM702 300h13v6h-13zM805 300h7v6h-7zM864 300h6v6h-6zM696 306h6v7h-6zM799 306h6v7h-6zM638 313h13v6h-13zM664 319h12v6h-12zM689 319h7v6h-7zM548 325h6v7h-6zM676 325h7v7h-7zM805 325h7v7h-7zM599 332h13v6h-13zM812 332h6v6h-6zM528 338h7v7h-7zM618 338h13v7h-13zM773 338h7v7h-7zM818 338h7v7h-7zM825 345h6v6h-6zM515 351h7v7h-7zM793 351h6v7h-6zM1154 371h6v6h-6zM489 377h7v7h-7zM496 384h6v6h-6zM1192 384h7v6h-7zM1012 390h6v6h-6zM470 396h7v7h-7zM1070 403h6v6h-6zM451 416h6v6h-6zM515 416h7v6h-7zM967 435h6v7h-6zM999 442h6v6h-6zM1250 442h7v6h-7zM277 448h6v6h-6zM1231 448h7v6h-7zM1250 448h7v6h-7zM328 454h7v7h-7zM941 454h6v7h-6zM315 467h7v7h-7zM354 467h6v7h-6zM1083 493h6v7h-6zM1102 500h7v6h-7zM1276 506h7v6h-7zM1270 512h6v7h-6zM1296 512h6v7h-6zM1263 519h7v6h-7zM1270 525h6v7h-6zM1296 525h6v7h-6zM1296 532h6v6h-6zM1296 538h6v7h-6z"/>
<path fill="#52ffa5" d="M767 248h6v7h-6zM825 248h13v7h-13zM883 248h6v7h-6zM818 255h7v6h-7zM909 255h6v6h-6zM818 261h7v6h-7zM915 261h7v6h-7zM560 267h7v7h-7zM818 267h7v7h-7zM928 267h6v7h-6zM593 274h6v6h-6zM934 274h7v6h-7zM606 287h6v6h-6zM728 287h7v6h-7zM947 287h7v6h-7zM606 293h6v7h-6zM812 293h6v7h-6zM857 293h7v7h-7zM883 293h6v7h-6zM947 293h7v7h-7zM612 300h6v6h-6zM625 306h6v7h-6zM651 313h6v6h-6zM689 313h7v6h-7zM799 313h6v6h-6zM676 319h7v6h-7zM805 319h7v6h-7zM593 325h6v7h-6zM683 325h6v7h-6zM664 332h12v6h-12zM599 338h7v7h-7zM631 338h7v7h-7zM606 345h6v6h-6zM786 345h7v6h-7zM496 358h13v6h-13zM812 358h6v6h-6zM992 358h7v6h-7zM805 364h7v7h-7zM1147 364h7v7h-7zM1160 371h7v6h-7zM496 377h6v7h-6zM477 390h6v6h-6zM1044 396h7v7h-7zM1076 409h7v7h-7zM502 429h7v6h-7zM1102 429h7v6h-7zM960 435h7v7h-7zM986 435h6v7h-6zM1238 448h12v6h-12zM264 461h6v6h-6zM328 461h7v6h-7zM934 461h7v6h-7zM1005 461h7v6h-7zM1089 474h13v6h-13zM1057 480h6v7h-6zM1302 480h6v7h-6zM1296 500h6v6h-6zM1134 506h7v6h-7zM1296 506h6v6h-6zM1276 538h7v7h-7z"/>
<path fill="#5dff9a" d="M773 235h7v7h-7zM554 267h6v7h-6zM567 267h19v7h-19zM541 274h7v6h-7zM728 274h7v6h-7zM535 280h6v7h-6zM818 280h7v7h-7zM876 287h7v6h-7zM941 287h6v6h-6zM722 293h6v7h-6zM876 293h7v7h-7zM812 300h6v6h-6zM870 300h13v6h-13zM631 306h7v7h-7zM805 306h7v7h-7zM870 306h6v7h-6zM883 306h13v7h-13zM657 313h13v6h-13zM805 313h7v6h-7zM954 313h6v6h-6zM683 319h6v6h-6zM560 325h7v7h-7zM580 325h13v7h-13zM812 325h6v7h-6zM541 332h7v6h-7zM535 338h6v7h-6zM767 338h6v7h-6zM825 338h6v7h-6zM986 338h6v7h-6zM599 345h7v6h-7zM612 345h6v6h-6zM780 345h6v6h-6zM599 351h7v7h-7zM825 351h6v7h-6zM489 358h7v6h-7zM509 358h6v6h-6zM793 358h6v6h-6zM496 364h6v7h-6zM992 364h7v7h-7zM489 371h13v6h-13zM1167 371h6v6h-6zM483 384h6v6h-6zM1038 396h6v7h-6zM451 409h6v7h-6zM992 435h7v7h-7zM1102 435h7v7h-7zM277 442h6v6h-6zM1102 442h7v6h-7zM1005 448h7v6h-7zM335 454h13v7h-13zM1005 454h7v7h-7zM348 461h6v6h-6zM1102 461h7v6h-7zM360 474h7v6h-7zM1076 474h13v6h-13zM1121 506h7v6h-7zM1186 512h6v7h-6zM1296 519h6v6h-6zM1199 525h6v7h-6zM1302 525h6v7h-6zM1302 532h6v6h-6z"/>
<path fill="#67ff90" d="M876 248h7v7h-7zM825 255h6v6h-6zM902 255h7v6h-7zM825 261h6v6h-6zM909 261h6v6h-6zM541 267h13v7h-13zM586 267h7v7h-7zM922 267h6v7h-6zM599 274h7v6h-7zM818 274h7v6h-7zM599 280h7v7h-7zM728 280h7v7h-7zM934 280h7v7h-7zM857 287h7v6h-7zM883 287h6v6h-6zM934 287h7v6h-7zM612 293h6v7h-6zM715 293h7v7h-7zM889 293h7v7h-7zM618 300h7v6h-7zM857 300h7v6h-7zM883 300h13v6h-13zM689 306h7v7h-7zM876 306h7v7h-7zM670 313h19v6h-19zM812 319h6v6h-6zM967 319h6v6h-6zM554 325h6v7h-6zM593 332h6v6h-6zM676 332h20v6h-20zM818 332h7v6h-7zM593 338h6v7h-6zM638 338h6v7h-6zM528 345h7v6h-7zM593 345h6v6h-6zM618 345h7v6h-7zM831 345h7v6h-7zM786 351h7v7h-7zM818 358h7v6h-7zM489 364h7v7h-7zM799 364h6v7h-6zM502 384h7v6h-7zM1005 384h7v6h-7zM509 390h6v6h-6zM1031 396h7v7h-7zM457 403h7v6h-7zM644 403h7v6h-7zM1063 403h7v6h-7zM1089 416h7v6h-7zM444 422h7v7h-7zM515 422h7v7h-7zM947 442h7v6h-7zM941 448h6v6h-6zM1102 448h7v6h-7zM270 454h7v7h-7zM1012 454h6v7h-6zM1102 454h7v7h-7zM335 461h13v6h-13zM367 461h6v6h-6zM1012 461h6v6h-6zM264 467h6v7h-6zM322 467h6v7h-6zM960 467h26v7h-26zM283 474h19v6h-19zM354 474h6v6h-6zM1302 487h6v6h-6zM1076 493h7v7h-7zM1302 493h6v7h-6zM1302 500h6v6h-6zM1115 506h6v6h-6zM1128 506h6v6h-6zM1302 506h6v6h-6zM1302 512h6v7h-6zM1302 519h6v6h-6z"/>
<path fill="#71ff86" d="M767 242h6v6h-6zM838 248h13v7h-13zM870 248h6v7h-6zM754 255h13v6h-13zM735 261h6v6h-6zM825 267h6v7h-6zM928 274h6v6h-6zM606 280h6v7h-6zM818 287h7v6h-7zM896 300h6v6h-6zM638 306h26v7h-26zM676 306h7v7h-7zM812 306h6v7h-6zM857 306h13v7h-13zM896 306h6v7h-6zM567 325h6v7h-6zM818 325h7v7h-7zM586 332h7v6h-7zM825 332h13v6h-13zM747 338h20v7h-20zM831 338h7v7h-7zM625 345h6v6h-6zM606 351h12v7h-12zM515 358h7v6h-7zM599 358h13v6h-13zM502 364h7v7h-7zM805 371h7v6h-7zM483 377h6v7h-6zM477 384h6v6h-6zM464 396h6v7h-6zM515 396h7v7h-7zM638 403h6v6h-6zM1096 422h6v7h-6zM444 429h7v6h-7zM509 429h6v6h-6zM277 435h6v7h-6zM457 435h7v7h-7zM470 435h13v7h-13zM367 467h6v7h-6zM947 467h13v7h-13zM986 467h6v7h-6zM277 474h6v6h-6zM1070 474h6v6h-6zM1051 480h6v7h-6zM1302 538h6v7h-6z"/>
<path fill="#7bff7b" d="M851 248h13v7h-13zM831 255h7v6h-7zM896 255h6v6h-6zM580 261h13v6h-13zM593 267h6v7h-6zM915 267h7v7h-7zM825 274h6v6h-6zM825 280h6v7h-6zM928 280h6v7h-6zM612 287h6v6h-6zM722 287h6v6h-6zM889 287h7v6h-7zM928 287h6v6h-6zM618 293h7v7h-7zM709 293h6v7h-6zM818 293h7v7h-7zM902 293h7v7h-7zM941 293h6v7h-6zM696 300h6v6h-6zM902 300h7v6h-7zM947 300h7v6h-7zM664 306h6v7h-6zM683 306h6v7h-6zM851 306h6v7h-6zM812 313h6v6h-6zM864 313h6v6h-6zM876 313h33v6h-33zM818 319h7v6h-7zM896 319h6v6h-6zM573 325h7v7h-7zM825 325h6v7h-6zM857 325h7v7h-7zM548 332h6v6h-6zM844 332h7v6h-7zM973 332h7v6h-7zM541 338h7v7h-7zM586 338h7v7h-7zM535 345h6v6h-6zM773 345h7v6h-7zM586 351h13v7h-13zM593 358h6v6h-6zM593 364h6v7h-6zM812 364h6v7h-6zM502 371h7v6h-7zM992 371h7v6h-7zM502 377h7v7h-7zM999 377h6v7h-6zM631 396h20v7h-20zM1025 396h6v7h-6zM651 403h6v6h-6zM1083 416h6v6h-6zM980 429h6v6h-6zM464 435h6v7h-6zM483 435h6v7h-6zM999 435h6v7h-6zM1005 442h7v6h-7zM1012 448h6v6h-6zM934 454h7v7h-7zM1025 461h6v6h-6zM348 467h6v7h-6zM941 467h6v7h-6zM1096 467h6v7h-6zM270 474h7v6h-7zM302 474h7v6h-7z"/>
<path fill="#86ff71" d="M864 248h6v7h-6zM747 255h7v6h-7zM889 255h7v6h-7zM554 261h26v6h-26zM831 261h7v6h-7zM728 267h7v7h-7zM922 274h6v6h-6zM870 280h13v7h-13zM825 287h6v6h-6zM851 287h6v6h-6zM851 293h6v7h-6zM896 293h6v7h-6zM625 300h13v6h-13zM818 300h7v6h-7zM851 300h6v6h-6zM670 306h6v7h-6zM818 306h7v7h-7zM902 306h7v7h-7zM857 313h7v6h-7zM870 313h6v6h-6zM864 319h19v6h-19zM831 325h26v7h-26zM870 325h6v7h-6zM883 325h6v7h-6zM915 325h7v7h-7zM580 332h6v6h-6zM838 332h6v6h-6zM851 332h19v6h-19zM915 332h7v6h-7zM644 338h26v7h-26zM838 338h6v7h-6zM851 338h6v7h-6zM586 345h7v6h-7zM838 345h6v6h-6zM915 345h7v6h-7zM522 351h6v7h-6zM831 351h7v7h-7zM825 358h6v6h-6zM509 364h6v7h-6zM599 364h7v7h-7zM799 371h6v6h-6zM477 377h6v7h-6zM509 377h6v7h-6zM638 384h6v6h-6zM470 390h7v6h-7zM631 390h26v6h-26zM631 403h7v6h-7zM638 409h6v7h-6zM1070 409h6v7h-6zM986 429h13v6h-13zM954 435h6v7h-6zM419 448h6v6h-6zM380 454h6v7h-6zM257 461h7v6h-7zM373 461h7v6h-7zM1018 461h7v6h-7zM257 467h7v7h-7zM992 467h7v7h-7zM367 474h6v6h-6zM1063 474h7v6h-7zM354 480h13v7h-13zM360 487h7v6h-7zM1057 487h6v6h-6zM360 493h7v7h-7zM186 506h7v6h-7zM1199 532h6v6h-6z"/>
<path fill="#90ff67" d="M548 261h6v6h-6zM593 261h6v6h-6zM896 261h13v6h-13zM599 267h7v7h-7zM722 274h6v6h-6zM612 280h6v7h-6zM722 280h6v7h-6zM864 280h6v7h-6zM889 280h13v7h-13zM922 280h6v7h-6zM618 287h7v6h-7zM715 287h7v6h-7zM896 287h6v6h-6zM702 293h7v7h-7zM825 293h6v7h-6zM638 300h6v6h-6zM689 300h7v6h-7zM909 300h6v6h-6zM909 306h6v7h-6zM831 313h7v6h-7zM851 313h6v6h-6zM909 313h6v6h-6zM825 319h26v6h-26zM857 319h7v6h-7zM883 319h13v6h-13zM909 319h6v6h-6zM960 319h7v6h-7zM864 325h6v7h-6zM876 325h7v7h-7zM889 325h26v7h-26zM573 332h7v6h-7zM870 332h6v6h-6zM896 332h6v6h-6zM909 332h6v6h-6zM670 338h6v7h-6zM741 338h6v7h-6zM844 338h7v7h-7zM864 338h6v7h-6zM580 345h6v6h-6zM909 345h6v6h-6zM922 345h6v6h-6zM618 351h7v7h-7zM780 351h6v7h-6zM586 358h7v6h-7zM606 364h6v7h-6zM818 364h7v7h-7zM483 371h6v6h-6zM509 384h6v6h-6zM631 384h7v6h-7zM644 384h7v6h-7zM625 390h6v6h-6zM625 396h6v7h-6zM651 396h6v7h-6zM1018 396h7v7h-7zM451 403h6v6h-6zM625 403h6v6h-6zM1057 403h6v6h-6zM522 409h6v7h-6zM631 409h7v7h-7zM644 409h7v7h-7zM1076 416h7v6h-7zM967 429h13v6h-13zM451 435h6v7h-6zM1005 435h7v7h-7zM270 448h7v6h-7zM1018 454h13v7h-13zM251 461h6v6h-6zM251 467h6v7h-6zM1083 467h6v7h-6zM1057 474h6v6h-6zM199 500h7v6h-7zM360 500h7v6h-7zM360 512h7v7h-7zM651 525h6v7h-6zM915 538h13v7h-13z"/>
<path fill="#9aff5d" d="M767 235h6v7h-6zM741 255h6v6h-6zM838 255h19v6h-19zM883 255h6v6h-6zM831 267h7v7h-7zM909 267h6v7h-6zM606 274h6v6h-6zM831 274h7v6h-7zM915 274h7v6h-7zM831 280h7v7h-7zM857 280h7v7h-7zM883 280h6v7h-6zM915 280h7v7h-7zM909 287h6v6h-6zM922 287h6v6h-6zM928 293h13v7h-13zM651 300h6v6h-6zM947 306h7v7h-7zM818 313h7v6h-7zM851 319h6v6h-6zM902 319h7v6h-7zM915 319h7v6h-7zM967 325h6v7h-6zM560 332h7v6h-7zM902 332h7v6h-7zM922 332h6v6h-6zM548 338h6v7h-6zM580 338h6v7h-6zM702 338h7v7h-7zM857 338h7v7h-7zM909 338h19v7h-19zM980 338h6v7h-6zM541 345h7v6h-7zM986 345h6v6h-6zM528 351h7v7h-7zM580 351h6v7h-6zM612 358h6v6h-6zM483 364h6v7h-6zM586 364h7v7h-7zM612 364h6v7h-6zM509 371h6v6h-6zM586 371h26v6h-26zM470 384h7v6h-7zM625 384h6v6h-6zM457 396h7v7h-7zM1012 396h6v7h-6zM651 409h6v7h-6zM980 422h6v7h-6zM992 422h7v7h-7zM438 429h6v6h-6zM999 429h6v6h-6zM1096 429h6v6h-6zM489 435h7v7h-7zM425 442h6v6h-6zM1012 442h6v6h-6zM934 448h7v6h-7zM1018 448h7v6h-7zM264 454h6v7h-6zM386 454h7v7h-7zM238 461h13v6h-13zM1031 461h7v6h-7zM244 467h7v7h-7zM328 467h7v7h-7zM341 467h7v7h-7zM373 467h7v7h-7zM1089 467h7v7h-7zM264 474h6v6h-6zM206 487h6v6h-6zM199 493h7v7h-7zM354 493h6v7h-6zM1070 493h6v7h-6zM193 500h6v6h-6zM606 500h6v6h-6zM193 506h6v6h-6zM360 506h7v6h-7zM1180 512h6v7h-6zM1192 519h7v6h-7z"/>
<path fill="#a5ff52" d="M747 248h7v7h-7zM864 255h6v6h-6zM876 255h7v6h-7zM728 261h7v6h-7zM838 261h6v6h-6zM889 261h7v6h-7zM606 267h6v7h-6zM902 267h7v7h-7zM612 274h6v6h-6zM902 274h13v6h-13zM715 280h7v7h-7zM909 280h6v7h-6zM709 287h6v6h-6zM831 287h7v6h-7zM902 287h7v6h-7zM625 293h13v7h-13zM696 293h6v7h-6zM831 293h7v7h-7zM909 293h19v7h-19zM644 300h7v6h-7zM676 300h7v6h-7zM825 300h13v6h-13zM844 300h7v6h-7zM825 306h13v7h-13zM844 306h7v7h-7zM825 313h6v6h-6zM838 313h13v6h-13zM915 313h7v6h-7zM554 332h6v6h-6zM567 332h6v6h-6zM876 332h13v6h-13zM560 338h7v7h-7zM573 338h7v7h-7zM735 338h6v7h-6zM896 338h6v7h-6zM631 345h13v6h-13zM844 345h20v6h-20zM922 351h6v7h-6zM580 358h6v6h-6zM793 364h6v7h-6zM812 371h6v6h-6zM586 377h7v7h-7zM599 377h19v7h-19zM651 377h6v7h-6zM799 377h13v7h-13zM651 384h13v6h-13zM612 390h13v6h-13zM657 390h7v6h-7zM618 396h7v7h-7zM657 396h7v7h-7zM522 403h6v6h-6zM618 403h7v6h-7zM657 403h7v6h-7zM625 409h6v7h-6zM786 422h7v7h-7zM986 422h6v7h-6zM1089 422h7v7h-7zM960 429h7v6h-7zM438 435h6v7h-6zM270 442h7v6h-7zM941 442h6v6h-6zM1018 442h7v6h-7zM1096 461h6v6h-6zM232 467h12v7h-12zM335 467h6v7h-6zM934 467h7v7h-7zM999 467h6v7h-6zM219 474h6v6h-6zM309 474h13v6h-13zM348 474h6v6h-6zM1051 474h6v6h-6zM219 480h6v7h-6zM367 480h6v7h-6zM212 487h7v6h-7zM354 487h6v6h-6zM367 487h6v6h-6zM206 493h6v7h-6zM354 500h6v6h-6zM1096 500h6v6h-6zM354 506h6v6h-6zM483 506h6v6h-6zM354 519h6v6h-6zM922 532h6v6h-6z"/>
<path fill="#afff48" d="M567 255h26v6h-26zM857 255h7v6h-7zM870 255h6v6h-6zM599 261h7v6h-7zM883 261h6v6h-6zM722 267h6v7h-6zM896 267h6v7h-6zM896 274h6v6h-6zM618 280h7v7h-7zM851 280h6v7h-6zM902 280h7v7h-7zM915 287h7v6h-7zM689 293h7v7h-7zM657 300h7v6h-7zM683 300h6v6h-6zM838 306h6v7h-6zM915 306h7v7h-7zM922 325h6v7h-6zM889 332h7v6h-7zM554 338h6v7h-6zM567 338h6v7h-6zM709 338h6v7h-6zM876 338h7v7h-7zM889 338h7v7h-7zM902 338h7v7h-7zM548 345h6v6h-6zM573 345h7v6h-7zM767 345h6v6h-6zM864 345h12v6h-12zM896 345h6v6h-6zM573 351h7v7h-7zM625 351h13v7h-13zM838 351h6v7h-6zM986 351h6v7h-6zM522 358h6v6h-6zM618 358h7v6h-7zM786 358h7v6h-7zM580 364h6v7h-6zM477 371h6v6h-6zM573 371h13v6h-13zM612 371h6v6h-6zM593 377h6v7h-6zM644 377h7v7h-7zM657 377h7v7h-7zM586 384h13v6h-13zM612 384h13v6h-13zM676 384h7v6h-7zM464 390h6v6h-6zM515 390h7v6h-7zM1005 390h7v6h-7zM1051 403h6v6h-6zM1063 409h7v7h-7zM515 429h7v6h-7zM1005 429h7v6h-7zM431 435h7v7h-7zM444 435h7v7h-7zM496 435h6v7h-6zM1012 435h6v7h-6zM431 442h7v6h-7zM425 448h6v6h-6zM251 454h13v7h-13zM1096 454h6v7h-6zM1038 461h6v6h-6zM225 467h7v7h-7zM1005 467h7v7h-7zM1070 467h13v7h-13zM225 474h7v6h-7zM257 474h7v6h-7zM212 480h7v7h-7zM367 493h6v7h-6zM367 500h6v6h-6zM199 506h7v6h-7zM477 506h6v6h-6zM606 506h6v6h-6zM180 512h13v7h-13zM477 512h6v7h-6zM489 512h7v7h-7zM489 519h7v6h-7zM489 525h7v7h-7zM644 525h7v7h-7zM657 525h7v7h-7zM360 532h7v6h-7zM651 532h6v6h-6zM915 532h7v6h-7zM1199 538h6v7h-6z"/>
<path fill="#b9ff3e" d="M741 248h6v7h-6zM560 255h7v6h-7zM593 255h6v6h-6zM735 255h6v6h-6zM606 261h6v6h-6zM844 261h7v6h-7zM864 261h6v6h-6zM876 261h7v6h-7zM618 267h7v7h-7zM889 267h7v7h-7zM618 274h7v6h-7zM715 274h7v6h-7zM838 274h6v6h-6zM883 274h13v6h-13zM709 280h6v7h-6zM625 287h6v6h-6zM844 293h7v7h-7zM670 300h6v6h-6zM838 300h6v6h-6zM915 300h7v6h-7zM922 319h6v6h-6zM696 338h6v7h-6zM715 338h7v7h-7zM870 338h6v7h-6zM883 338h6v7h-6zM554 345h19v6h-19zM876 345h7v6h-7zM889 345h7v6h-7zM902 345h7v6h-7zM928 345h6v6h-6zM535 351h13v7h-13zM773 351h7v7h-7zM915 351h7v7h-7zM928 351h6v7h-6zM573 358h7v6h-7zM831 358h7v6h-7zM986 358h6v6h-6zM515 364h7v7h-7zM618 364h7v7h-7zM986 364h6v7h-6zM657 371h7v6h-7zM670 371h6v6h-6zM470 377h7v7h-7zM580 377h6v7h-6zM618 377h7v7h-7zM638 377h6v7h-6zM664 377h19v7h-19zM793 377h6v7h-6zM580 384h6v6h-6zM599 384h7v6h-7zM664 384h6v6h-6zM683 384h6v6h-6zM664 390h6v6h-6zM664 396h6v7h-6zM612 403h6v6h-6zM618 409h7v7h-7zM522 416h6v6h-6zM786 416h7v6h-7zM986 416h6v6h-6zM1070 416h6v6h-6zM973 422h7v7h-7zM1083 422h6v7h-6zM947 435h7v7h-7zM1025 448h6v6h-6zM244 454h7v7h-7zM393 454h13v7h-13zM1031 454h7v7h-7zM380 461h6v6h-6zM928 461h6v6h-6zM1038 467h6v7h-6zM1063 467h7v7h-7zM232 474h6v6h-6zM244 474h13v6h-13zM373 474h7v6h-7zM225 480h13v7h-13zM373 480h7v7h-7zM206 500h6v6h-6zM489 500h7v6h-7zM612 500h6v6h-6zM367 506h6v6h-6zM489 506h7v6h-7zM193 512h6v7h-6zM483 512h6v7h-6zM360 519h7v6h-7zM651 519h6v6h-6zM354 525h13v7h-13zM683 525h6v7h-6zM922 525h6v7h-6zM354 532h6v6h-6zM664 532h6v6h-6zM360 538h7v7h-7z"/>
<path fill="#c3ff33" d="M554 255h6v6h-6zM599 255h7v6h-7zM851 261h6v6h-6zM870 261h6v6h-6zM612 267h6v7h-6zM838 267h13v7h-13zM883 267h6v7h-6zM851 274h6v6h-6zM864 274h6v6h-6zM876 274h7v6h-7zM625 280h6v7h-6zM838 280h13v7h-13zM631 287h7v6h-7zM696 287h13v6h-13zM838 287h13v6h-13zM638 293h6v7h-6zM664 300h6v6h-6zM928 300h6v6h-6zM941 300h6v6h-6zM676 338h13v7h-13zM722 338h13v7h-13zM928 338h6v7h-6zM644 345h13v6h-13zM664 345h6v6h-6zM883 345h6v6h-6zM934 345h7v6h-7zM560 351h13v7h-13zM844 351h13v7h-13zM625 358h6v6h-6zM567 364h13v7h-13zM664 364h6v7h-6zM825 364h6v7h-6zM644 371h13v6h-13zM664 371h6v6h-6zM683 371h6v6h-6zM515 377h7v7h-7zM625 377h13v7h-13zM683 377h6v7h-6zM464 384h6v6h-6zM515 384h7v6h-7zM573 384h7v6h-7zM606 384h6v6h-6zM670 384h6v6h-6zM799 384h13v6h-13zM586 390h26v6h-26zM676 390h7v6h-7zM451 396h6v7h-6zM612 396h6v7h-6zM1044 403h7v6h-7zM657 409h7v7h-7zM625 416h13v6h-13zM651 416h6v6h-6zM992 416h7v6h-7zM780 422h6v7h-6zM793 422h12v7h-12zM999 422h6v7h-6zM1076 422h7v7h-7zM1018 435h7v7h-7zM1096 435h6v7h-6zM438 442h6v6h-6zM1038 454h6v7h-6zM1012 467h26v7h-26zM1044 467h19v7h-19zM238 474h6v6h-6zM1044 474h7v6h-7zM244 480h7v7h-7zM277 480h13v7h-13zM799 480h6v7h-6zM1044 480h7v7h-7zM219 487h6v6h-6zM793 487h12v6h-12zM1051 487h6v6h-6zM212 493h7v7h-7zM373 493h7v7h-7zM618 493h7v7h-7zM373 500h7v6h-7zM477 500h12v6h-12zM496 500h6v6h-6zM373 506h7v6h-7zM354 512h6v7h-6zM367 512h6v7h-6zM477 519h12v6h-12zM496 519h6v6h-6zM657 519h7v6h-7zM367 525h6v7h-6zM664 525h6v7h-6zM915 525h7v7h-7zM489 532h7v6h-7zM657 532h7v6h-7zM354 538h6v7h-6z"/>
<path fill="#ceff29" d="M728 255h7v6h-7zM612 261h6v6h-6zM715 261h13v6h-13zM857 261h7v6h-7zM876 267h7v7h-7zM638 274h6v6h-6zM709 274h6v6h-6zM844 274h7v6h-7zM857 274h7v6h-7zM870 274h6v6h-6zM631 280h7v7h-7zM689 287h7v6h-7zM644 293h7v7h-7zM683 293h6v7h-6zM838 293h6v7h-6zM947 313h7v6h-7zM954 319h6v6h-6zM928 332h6v6h-6zM967 332h6v6h-6zM689 338h7v7h-7zM760 345h7v6h-7zM548 351h12v7h-12zM857 351h13v7h-13zM902 351h13v7h-13zM567 358h6v6h-6zM657 358h13v6h-13zM780 358h6v6h-6zM644 364h20v7h-20zM676 364h7v7h-7zM786 364h7v7h-7zM470 371h7v6h-7zM515 371h7v6h-7zM618 371h7v6h-7zM676 371h7v6h-7zM793 371h6v6h-6zM818 371h7v6h-7zM464 377h6v7h-6zM573 377h7v7h-7zM689 377h7v7h-7zM992 377h7v7h-7zM689 384h7v6h-7zM999 384h6v6h-6zM683 390h6v6h-6zM522 396h6v7h-6zM606 396h6v7h-6zM1005 396h7v7h-7zM664 403h6v6h-6zM612 409h6v7h-6zM1057 409h6v7h-6zM638 416h13v6h-13zM780 416h6v6h-6zM973 416h7v6h-7zM1063 416h7v6h-7zM522 422h6v7h-6zM967 422h6v7h-6zM1070 422h6v7h-6zM502 435h7v7h-7zM264 448h6v6h-6zM431 448h7v6h-7zM406 454h13v7h-13zM928 454h6v7h-6zM1044 454h7v7h-7zM386 461h7v6h-7zM1044 461h7v6h-7zM1089 461h7v6h-7zM380 467h6v7h-6zM322 474h6v6h-6zM238 480h6v7h-6zM257 480h20v7h-20zM625 480h6v7h-6zM793 480h6v7h-6zM805 480h7v7h-7zM373 487h7v6h-7zM625 487h13v6h-13zM489 493h7v7h-7zM599 500h7v6h-7zM496 506h6v6h-6zM599 506h7v6h-7zM496 512h6v7h-6zM593 512h6v7h-6zM186 519h7v6h-7zM367 519h6v6h-6zM664 519h6v6h-6zM683 519h6v6h-6zM477 525h12v7h-12zM670 525h13v7h-13zM689 525h7v7h-7zM1192 525h7v7h-7zM367 532h6v6h-6zM670 532h6v6h-6zM683 532h6v6h-6zM496 538h6v7h-6zM657 538h26v7h-26zM928 538h6v7h-6z"/>
<path fill="#d8ff1f" d="M625 267h6v7h-6zM644 267h7v7h-7zM851 267h6v7h-6zM870 267h6v7h-6zM625 274h13v6h-13zM638 280h6v7h-6zM689 280h7v7h-7zM702 280h7v7h-7zM651 293h6v7h-6zM676 293h7v7h-7zM922 300h6v6h-6zM934 300h7v6h-7zM922 306h6v7h-6zM922 313h6v6h-6zM928 325h6v7h-6zM657 345h7v6h-7zM754 345h6v6h-6zM638 351h6v7h-6zM870 351h6v7h-6zM934 351h7v7h-7zM560 358h7v6h-7zM631 358h7v6h-7zM838 358h6v6h-6zM922 358h6v6h-6zM670 364h6v7h-6zM689 371h7v6h-7zM812 377h6v7h-6zM567 384h6v6h-6zM793 384h6v6h-6zM457 390h7v6h-7zM670 390h6v6h-6zM670 396h6v7h-6zM683 396h13v7h-13zM606 403h6v6h-6zM670 403h6v6h-6zM664 409h6v7h-6zM780 409h6v7h-6zM980 416h6v6h-6zM999 416h6v6h-6zM1005 422h7v7h-7zM786 429h7v6h-7zM954 429h6v6h-6zM1012 429h6v6h-6zM1083 429h13v6h-13zM264 442h6v6h-6zM444 442h7v6h-7zM934 442h7v6h-7zM1025 442h6v6h-6zM1096 442h6v6h-6zM1031 448h7v6h-7zM1096 448h6v6h-6zM419 454h6v7h-6zM1051 454h12v7h-12zM1051 461h12v6h-12zM1076 461h13v6h-13zM644 474h7v6h-7zM290 480h6v7h-6zM812 480h6v7h-6zM225 487h7v6h-7zM780 487h13v6h-13zM496 493h6v7h-6zM348 500h6v6h-6zM206 506h6v6h-6zM348 506h6v6h-6zM199 512h7v7h-7zM373 512h7v7h-7zM180 519h6v6h-6zM348 519h6v6h-6zM373 519h7v6h-7zM586 519h7v6h-7zM644 519h7v6h-7zM670 519h13v6h-13zM348 525h6v7h-6zM496 525h6v7h-6zM193 532h6v6h-6zM348 532h6v6h-6zM483 532h6v6h-6zM496 532h6v6h-6zM644 532h7v6h-7zM676 532h7v6h-7zM277 538h6v7h-6zM489 538h7v7h-7z"/>
<path fill="#e2ff15" d="M722 255h6v6h-6zM625 261h19v6h-19zM689 261h7v6h-7zM631 267h7v7h-7zM709 267h13v7h-13zM864 267h6v7h-6zM644 274h13v6h-13zM689 274h20v6h-20zM644 280h7v7h-7zM683 280h6v7h-6zM696 280h6v7h-6zM638 287h13v6h-13zM683 287h6v6h-6zM657 293h19v7h-19zM928 319h6v6h-6zM973 338h7v7h-7zM670 345h6v6h-6zM747 345h7v6h-7zM644 351h7v7h-7zM657 351h7v7h-7zM670 351h6v7h-6zM767 351h6v7h-6zM876 351h7v7h-7zM896 351h6v7h-6zM528 358h7v6h-7zM638 358h19v6h-19zM670 358h6v6h-6zM773 358h7v6h-7zM851 358h6v6h-6zM915 358h7v6h-7zM928 358h6v6h-6zM625 364h13v7h-13zM683 364h13v7h-13zM831 364h7v7h-7zM625 371h6v6h-6zM986 371h6v6h-6zM567 377h6v7h-6zM457 384h7v6h-7zM522 390h6v6h-6zM580 390h6v6h-6zM689 390h7v6h-7zM676 396h7v7h-7zM786 396h7v7h-7zM676 403h7v6h-7zM780 403h6v6h-6zM786 409h7v7h-7zM793 416h6v6h-6zM1057 416h6v6h-6zM960 422h7v7h-7zM1025 435h6v7h-6zM1044 442h7v6h-7zM438 448h6v6h-6zM928 448h6v6h-6zM1038 448h13v6h-13zM1063 454h20v7h-20zM1089 454h7v7h-7zM1063 461h13v6h-13zM328 474h7v6h-7zM341 474h7v6h-7zM380 474h6v6h-6zM805 474h7v6h-7zM1038 474h6v6h-6zM251 480h6v7h-6zM296 480h13v7h-13zM348 480h6v7h-6zM638 480h6v7h-6zM786 480h7v7h-7zM818 480h7v7h-7zM232 487h6v6h-6zM496 487h6v6h-6zM560 487h7v6h-7zM805 487h7v6h-7zM606 493h6v7h-6zM470 506h7v6h-7zM206 512h6v7h-6zM1173 512h7v7h-7zM193 519h13v6h-13zM502 519h7v6h-7zM567 519h6v6h-6zM186 532h7v6h-7zM283 532h7v6h-7zM373 532h7v6h-7zM928 532h6v6h-6zM283 538h7v7h-7zM348 538h6v7h-6zM367 538h6v7h-6zM644 538h13v7h-13z"/>
<path fill="#ecff0a" d="M689 255h13v6h-13zM618 261h7v6h-7zM651 261h6v6h-6zM676 261h7v6h-7zM638 267h6v7h-6zM651 267h6v7h-6zM683 267h13v7h-13zM857 267h7v7h-7zM683 274h6v6h-6zM651 280h6v7h-6zM651 351h6v7h-6zM664 351h6v7h-6zM883 351h13v7h-13zM554 358h6v6h-6zM934 358h7v6h-7zM522 364h6v7h-6zM638 364h6v7h-6zM567 371h6v6h-6zM638 371h6v6h-6zM696 371h6v6h-6zM825 371h6v6h-6zM696 384h6v6h-6zM451 390h6v6h-6zM696 390h6v6h-6zM799 390h6v6h-6zM999 390h6v6h-6zM599 396h7v7h-7zM999 396h6v7h-6zM683 403h6v6h-6zM786 403h7v6h-7zM1012 403h32v6h-32zM670 409h6v7h-6zM973 409h13v7h-13zM999 409h6v7h-6zM618 416h7v6h-7zM657 416h7v6h-7zM1005 416h7v6h-7zM1051 416h6v6h-6zM1012 422h6v7h-6zM1063 422h7v7h-7zM799 429h6v6h-6zM1018 429h13v6h-13zM1057 429h26v6h-26zM1031 435h7v7h-7zM1044 435h13v7h-13zM1063 435h20v7h-20zM1089 435h7v7h-7zM451 442h6v6h-6zM696 442h13v6h-13zM1057 442h6v6h-6zM257 448h7v6h-7zM1051 448h6v6h-6zM1063 448h7v6h-7zM425 454h6v7h-6zM1083 454h6v7h-6zM393 461h6v6h-6zM386 467h7v7h-7zM812 467h39v7h-39zM928 467h6v7h-6zM812 474h6v6h-6zM548 480h12v7h-12zM631 480h7v7h-7zM857 480h13v7h-13zM257 487h7v6h-7zM489 487h7v6h-7zM502 487h7v6h-7zM767 487h13v6h-13zM812 487h6v6h-6zM348 493h6v7h-6zM483 493h6v7h-6zM625 493h6v7h-6zM799 493h6v7h-6zM212 500h7v6h-7zM380 500h6v6h-6zM593 500h6v6h-6zM380 506h6v6h-6zM1109 506h6v6h-6zM348 512h6v7h-6zM664 512h12v7h-12zM683 512h6v7h-6zM689 519h7v6h-7zM186 525h20v7h-20zM277 525h6v7h-6zM373 525h7v7h-7zM567 525h6v7h-6zM928 525h6v7h-6zM199 532h7v6h-7zM567 532h6v6h-6zM689 532h7v6h-7zM186 538h7v7h-7zM270 538h7v7h-7zM373 538h7v7h-7zM483 538h6v7h-6z"/>
<path fill="#f7f600" d="M676 255h13v6h-13zM715 255h7v6h-7zM644 261h7v6h-7zM683 261h6v6h-6zM696 261h6v6h-6zM709 261h6v6h-6zM657 267h7v7h-7zM676 267h7v7h-7zM696 267h6v7h-6zM664 274h6v6h-6zM676 274h7v6h-7zM657 280h13v7h-13zM676 280h7v7h-7zM651 287h13v6h-13zM676 287h7v6h-7zM960 325h7v7h-7zM941 345h6v6h-6zM980 345h6v6h-6zM941 351h6v7h-6zM676 358h7v6h-7zM767 358h6v6h-6zM857 358h13v6h-13zM560 364h7v7h-7zM780 364h6v7h-6zM934 364h7v7h-7zM560 371h7v6h-7zM631 371h7v6h-7zM786 371h7v6h-7zM522 377h6v7h-6zM696 377h6v7h-6zM786 377h7v7h-7zM451 384h6v6h-6zM786 384h7v6h-7zM573 390h7v6h-7zM786 390h7v6h-7zM593 396h6v7h-6zM696 396h6v7h-6zM780 396h6v7h-6zM599 403h7v6h-7zM689 403h7v6h-7zM999 403h13v6h-13zM606 409h6v7h-6zM683 409h6v7h-6zM967 409h6v7h-6zM986 409h13v7h-13zM1051 409h6v7h-6zM967 416h6v6h-6zM1012 416h6v6h-6zM631 422h7v7h-7zM651 422h6v7h-6zM1051 422h12v7h-12zM1044 429h7v6h-7zM509 435h6v7h-6zM1038 435h6v7h-6zM1057 435h6v7h-6zM1083 435h6v7h-6zM457 442h7v6h-7zM689 442h7v6h-7zM1031 442h13v6h-13zM1051 442h6v6h-6zM1063 442h26v6h-26zM1057 448h6v6h-6zM1070 448h13v6h-13zM431 454h7v7h-7zM922 461h6v6h-6zM805 467h7v7h-7zM851 467h6v7h-6zM554 474h6v6h-6zM625 474h13v6h-13zM818 474h7v6h-7zM838 474h26v6h-26zM309 480h6v7h-6zM380 480h6v7h-6zM496 480h6v7h-6zM825 480h6v7h-6zM238 487h19v6h-19zM264 487h19v6h-19zM348 487h6v6h-6zM548 487h12v6h-12zM219 493h6v7h-6zM380 493h6v7h-6zM477 493h6v7h-6zM502 493h7v7h-7zM548 493h12v7h-12zM567 493h6v7h-6zM599 493h7v7h-7zM612 493h6v7h-6zM1063 493h7v7h-7zM502 500h7v6h-7zM548 500h19v6h-19zM548 506h12v6h-12zM573 506h7v6h-7zM502 512h7v7h-7zM676 512h7v7h-7zM173 519h7v6h-7zM206 519h6v6h-6zM341 519h7v6h-7zM573 519h7v6h-7zM922 519h6v6h-6zM1186 519h6v6h-6zM283 525h7v7h-7zM341 525h7v7h-7zM502 525h7v7h-7zM560 525h7v7h-7zM277 532h6v6h-6zM341 532h7v6h-7zM477 532h6v6h-6zM180 538h6v7h-6zM193 538h19v7h-19zM290 538h6v7h-6zM380 538h6v7h-6zM477 538h6v7h-6zM502 538h7v7h-7zM554 538h13v7h-13zM683 538h13v7h-13zM909 538h6v7h-6z"/>
<path fill="#ffea00" d="M715 248h7v7h-7zM709 255h6v6h-6zM657 261h13v6h-13zM702 261h7v6h-7zM664 267h12v7h-12zM702 267h7v7h-7zM670 274h6v6h-6zM670 280h6v7h-6zM928 306h6v7h-6zM934 332h7v6h-7zM934 338h7v7h-7zM676 345h7v6h-7zM741 345h6v6h-6zM535 358h19v6h-19zM844 358h7v6h-7zM909 358h6v6h-6zM941 358h6v6h-6zM696 364h6v7h-6zM928 364h6v7h-6zM941 364h6v7h-6zM702 377h7v7h-7zM702 384h7v6h-7zM992 384h7v6h-7zM793 390h6v6h-6zM805 390h7v6h-7zM528 403h7v6h-7zM676 409h7v7h-7zM1044 409h7v7h-7zM676 416h7v6h-7zM1044 416h7v6h-7zM625 422h6v7h-6zM638 422h13v7h-13zM1018 422h7v7h-7zM1044 422h7v7h-7zM793 429h6v6h-6zM1038 429h6v6h-6zM1051 429h6v6h-6zM683 435h6v7h-6zM464 442h6v6h-6zM683 442h6v6h-6zM709 442h6v6h-6zM1083 448h6v6h-6zM399 461h7v6h-7zM644 461h7v6h-7zM335 474h6v6h-6zM825 474h13v6h-13zM864 474h6v6h-6zM502 480h7v7h-7zM541 480h7v7h-7zM560 480h7v7h-7zM780 480h6v7h-6zM851 480h6v7h-6zM283 487h7v6h-7zM380 487h6v6h-6zM483 487h6v6h-6zM567 487h6v6h-6zM612 487h6v6h-6zM818 487h13v6h-13zM560 493h7v7h-7zM786 493h13v7h-13zM805 493h7v7h-7zM567 500h6v6h-6zM580 500h13v6h-13zM1089 500h7v6h-7zM212 506h7v6h-7zM502 506h7v6h-7zM560 506h13v6h-13zM593 506h6v6h-6zM212 512h7v7h-7zM567 512h6v7h-6zM599 512h7v7h-7zM657 512h7v7h-7zM689 512h7v7h-7zM277 519h6v6h-6zM380 519h6v6h-6zM696 519h6v6h-6zM915 519h7v6h-7zM180 525h6v7h-6zM206 525h6v7h-6zM290 525h6v7h-6zM380 525h6v7h-6zM554 525h6v7h-6zM573 525h7v7h-7zM696 525h6v7h-6zM180 532h6v6h-6zM206 532h6v6h-6zM290 532h6v6h-6zM380 532h6v6h-6zM502 532h7v6h-7zM554 532h13v6h-13zM1192 532h7v6h-7zM296 538h6v7h-6zM341 538h7v7h-7zM548 538h6v7h-6zM567 538h6v7h-6z"/>
<path fill="#ffde00" d="M702 255h7v6h-7zM670 261h6v6h-6zM657 274h7v6h-7zM664 287h12v6h-12zM941 306h6v7h-6zM928 313h6v6h-6zM947 319h7v6h-7zM683 345h6v6h-6zM760 351h7v7h-7zM683 358h6v6h-6zM760 358h7v6h-7zM870 358h13v6h-13zM554 364h6v7h-6zM773 364h7v7h-7zM915 364h13v7h-13zM522 371h6v6h-6zM702 371h7v6h-7zM831 371h7v6h-7zM560 377h7v7h-7zM522 384h6v6h-6zM709 384h6v6h-6zM567 390h6v6h-6zM702 390h7v6h-7zM793 396h6v7h-6zM696 403h6v6h-6zM986 403h13v6h-13zM689 409h7v7h-7zM793 409h6v7h-6zM1005 409h13v7h-13zM664 416h6v6h-6zM683 416h6v6h-6zM960 416h7v6h-7zM1018 416h7v6h-7zM1038 416h6v6h-6zM657 422h7v7h-7zM805 422h7v7h-7zM1025 422h13v7h-13zM522 429h6v6h-6zM644 429h7v6h-7zM780 429h6v6h-6zM1031 429h7v6h-7zM702 435h13v7h-13zM941 435h6v7h-6zM470 442h7v6h-7zM1089 442h7v6h-7zM1089 448h7v6h-7zM651 454h6v7h-6zM922 454h6v7h-6zM651 461h6v6h-6zM851 461h6v6h-6zM857 467h7v7h-7zM386 474h7v6h-7zM548 474h6v6h-6zM560 474h7v6h-7zM1031 474h7v6h-7zM315 480h7v7h-7zM386 480h7v7h-7zM489 480h7v7h-7zM535 480h6v7h-6zM567 480h6v7h-6zM618 480h7v7h-7zM831 480h20v7h-20zM870 480h6v7h-6zM1038 480h6v7h-6zM290 487h6v6h-6zM509 487h6v6h-6zM522 487h6v6h-6zM541 487h7v6h-7zM618 487h7v6h-7zM225 493h13v7h-13zM573 493h13v7h-13zM767 493h19v7h-19zM812 493h6v7h-6zM541 500h7v6h-7zM573 500h7v6h-7zM580 506h6v6h-6zM341 512h7v7h-7zM380 512h6v7h-6zM470 512h7v7h-7zM548 512h19v7h-19zM573 512h7v7h-7zM651 512h6v7h-6zM212 519h7v6h-7zM283 519h7v6h-7zM470 519h7v6h-7zM509 519h6v6h-6zM554 519h13v6h-13zM270 525h7v7h-7zM638 525h6v7h-6zM212 532h7v6h-7zM270 532h7v6h-7zM548 532h6v6h-6zM696 532h6v6h-6zM909 532h6v6h-6zM212 538h7v7h-7zM264 538h6v7h-6zM335 538h6v7h-6zM934 538h7v7h-7z"/>
<path fill="#ffd200" d="M934 325h7v7h-7zM696 345h6v6h-6zM735 345h6v6h-6zM754 351h6v7h-6zM947 358h7v6h-7zM702 364h7v7h-7zM767 364h6v7h-6zM838 364h6v7h-6zM780 371h6v6h-6zM941 371h6v6h-6zM780 377h6v7h-6zM818 377h7v7h-7zM812 384h6v6h-6zM780 390h6v6h-6zM586 396h7v7h-7zM702 396h7v7h-7zM992 396h7v7h-7zM593 403h6v6h-6zM702 403h7v6h-7zM528 409h7v7h-7zM1018 409h7v7h-7zM612 416h6v6h-6zM670 416h6v6h-6zM799 416h6v6h-6zM1025 416h6v6h-6zM664 422h6v7h-6zM683 422h6v7h-6zM954 422h6v7h-6zM1038 422h6v7h-6zM631 429h13v6h-13zM651 429h6v6h-6zM696 429h6v6h-6zM515 435h7v7h-7zM689 435h13v7h-13zM477 442h6v6h-6zM670 442h13v6h-13zM715 442h7v6h-7zM444 448h7v6h-7zM651 448h6v6h-6zM638 454h13v7h-13zM657 454h7v7h-7zM406 461h6v6h-6zM657 461h7v6h-7zM812 461h6v6h-6zM825 461h26v6h-26zM857 461h7v6h-7zM393 467h6v7h-6zM548 467h25v7h-25zM631 467h7v7h-7zM864 467h12v7h-12zM541 474h7v6h-7zM799 474h6v6h-6zM870 474h6v6h-6zM509 480h6v7h-6zM522 480h6v7h-6zM573 480h7v7h-7zM515 487h7v6h-7zM528 487h13v6h-13zM573 487h13v6h-13zM606 487h6v6h-6zM760 487h7v6h-7zM831 487h7v6h-7zM844 487h13v6h-13zM244 493h7v7h-7zM386 493h7v7h-7zM509 493h6v7h-6zM541 493h7v7h-7zM586 493h13v7h-13zM754 493h13v7h-13zM818 493h7v7h-7zM219 500h6v6h-6zM386 500h7v6h-7zM470 500h7v6h-7zM728 500h7v6h-7zM741 500h6v6h-6zM386 506h7v6h-7zM541 506h7v6h-7zM586 506h7v6h-7zM541 512h7v7h-7zM580 512h6v7h-6zM696 512h6v7h-6zM270 519h7v6h-7zM173 525h7v7h-7zM212 525h7v7h-7zM335 525h6v7h-6zM470 525h7v7h-7zM509 525h6v7h-6zM173 532h7v6h-7zM264 532h6v6h-6zM296 532h6v6h-6zM386 532h7v6h-7zM509 532h6v6h-6zM638 532h6v6h-6zM934 532h7v6h-7zM173 538h7v7h-7zM219 538h6v7h-6zM386 538h7v7h-7zM541 538h7v7h-7zM696 538h6v7h-6zM941 538h6v7h-6z"/>
<path fill="#ffc600" d="M934 306h7v7h-7zM934 319h7v6h-7zM941 338h6v7h-6zM967 338h6v7h-6zM702 345h7v6h-7zM947 345h7v6h-7zM676 351h7v7h-7zM747 351h7v7h-7zM947 351h7v7h-7zM689 358h7v6h-7zM889 358h7v6h-7zM902 358h7v6h-7zM548 364h6v7h-6zM760 364h7v7h-7zM554 371h6v6h-6zM934 371h7v6h-7zM709 377h6v7h-6zM560 384h7v6h-7zM715 384h7v6h-7zM709 390h13v6h-13zM799 396h6v7h-6zM773 403h7v6h-7zM973 403h13v6h-13zM599 409h7v7h-7zM696 409h6v7h-6zM773 409h7v7h-7zM960 409h7v7h-7zM1025 409h6v7h-6zM689 416h7v6h-7zM773 416h7v6h-7zM954 416h6v6h-6zM618 422h7v7h-7zM670 422h13v7h-13zM689 422h7v7h-7zM773 422h7v7h-7zM625 429h6v6h-6zM683 429h13v6h-13zM702 429h7v6h-7zM631 435h7v7h-7zM644 435h7v7h-7zM657 435h26v7h-26zM651 442h19v6h-19zM928 442h6v6h-6zM644 448h7v6h-7zM657 448h19v6h-19zM683 448h32v6h-32zM438 454h6v7h-6zM664 454h6v7h-6zM412 461h7v6h-7zM548 461h6v6h-6zM638 461h6v6h-6zM818 461h7v6h-7zM541 467h7v7h-7zM625 467h6v7h-6zM644 467h7v7h-7zM922 467h6v7h-6zM502 474h13v6h-13zM535 474h6v6h-6zM567 474h13v6h-13zM618 474h7v6h-7zM786 474h7v6h-7zM341 480h7v7h-7zM515 480h7v7h-7zM528 480h7v7h-7zM580 480h6v7h-6zM296 487h13v6h-13zM593 487h13v6h-13zM754 487h6v6h-6zM838 487h6v6h-6zM864 487h6v6h-6zM238 493h6v7h-6zM251 493h39v7h-39zM522 493h6v7h-6zM535 493h6v7h-6zM728 493h7v7h-7zM741 493h13v7h-13zM825 493h6v7h-6zM341 500h7v6h-7zM715 500h13v6h-13zM735 500h6v6h-6zM747 500h7v6h-7zM767 500h6v6h-6zM341 506h7v6h-7zM528 506h13v6h-13zM670 506h6v6h-6zM683 506h13v6h-13zM722 506h19v6h-19zM219 512h6v7h-6zM277 512h6v7h-6zM386 512h7v7h-7zM1147 512h7v7h-7zM1167 512h6v7h-6zM167 519h6v6h-6zM290 519h6v6h-6zM386 519h7v6h-7zM548 519h6v6h-6zM219 525h6v7h-6zM386 525h7v7h-7zM702 525h7v7h-7zM909 525h6v7h-6zM934 525h7v7h-7zM219 532h6v6h-6zM335 532h6v6h-6zM541 532h7v6h-7zM573 532h7v6h-7zM257 538h7v7h-7zM302 538h13v7h-13zM328 538h7v7h-7zM509 538h6v7h-6zM638 538h6v7h-6zM947 538h7v7h-7zM1192 538h7v7h-7z"/>
<path fill="#ffbb00" d="M941 313h6v6h-6zM941 325h6v7h-6zM941 332h6v6h-6zM683 351h6v7h-6zM696 358h6v6h-6zM754 358h6v6h-6zM883 358h6v6h-6zM896 358h6v6h-6zM528 364h7v7h-7zM754 364h6v7h-6zM844 364h26v7h-26zM947 364h7v7h-7zM709 371h6v6h-6zM773 371h7v6h-7zM554 377h6v7h-6zM715 377h7v7h-7zM986 377h6v7h-6zM560 390h7v6h-7zM992 390h7v6h-7zM528 396h7v7h-7zM580 396h6v7h-6zM715 396h7v7h-7zM709 403h6v6h-6zM793 403h6v6h-6zM1038 409h6v7h-6zM528 416h7v6h-7zM606 416h6v6h-6zM696 416h13v6h-13zM1031 416h7v6h-7zM612 422h6v7h-6zM696 422h6v7h-6zM657 429h19v6h-19zM805 429h7v6h-7zM947 429h7v6h-7zM638 435h6v7h-6zM651 435h6v7h-6zM715 435h7v7h-7zM483 442h13v6h-13zM638 442h6v6h-6zM451 448h6v6h-6zM922 448h6v6h-6zM631 454h7v7h-7zM419 461h6v6h-6zM535 461h6v6h-6zM554 461h6v6h-6zM631 461h7v6h-7zM805 461h7v6h-7zM915 461h7v6h-7zM528 467h13v7h-13zM638 467h6v7h-6zM651 467h13v7h-13zM496 474h6v6h-6zM522 474h13v6h-13zM580 474h6v6h-6zM638 474h6v6h-6zM793 474h6v6h-6zM322 480h13v7h-13zM483 480h6v7h-6zM586 480h7v7h-7zM612 480h6v7h-6zM773 480h7v7h-7zM876 480h7v7h-7zM309 487h6v6h-6zM386 487h7v6h-7zM477 487h6v6h-6zM586 487h7v6h-7zM857 487h7v6h-7zM470 493h7v7h-7zM515 493h7v7h-7zM528 493h7v7h-7zM722 493h6v7h-6zM735 493h6v7h-6zM528 500h13v6h-13zM618 500h7v6h-7zM754 500h13v6h-13zM773 500h13v6h-13zM219 506h6v6h-6zM509 506h6v6h-6zM612 506h6v6h-6zM715 506h7v6h-7zM741 506h19v6h-19zM283 512h7v7h-7zM335 512h6v7h-6zM509 512h6v7h-6zM644 512h7v7h-7zM722 512h6v7h-6zM1160 512h7v7h-7zM219 519h6v6h-6zM335 519h6v6h-6zM702 519h7v6h-7zM928 519h6v6h-6zM264 525h6v7h-6zM296 525h6v7h-6zM515 525h7v7h-7zM535 525h6v7h-6zM548 525h6v7h-6zM257 532h7v6h-7zM309 532h6v6h-6zM470 532h7v6h-7zM528 532h7v6h-7zM947 532h7v6h-7zM225 538h7v7h-7zM470 538h7v7h-7zM515 538h7v7h-7zM535 538h6v7h-6zM702 538h7v7h-7zM954 538h6v7h-6z"/>
<path fill="#ffaf00" d="M947 325h7v7h-7zM689 345h7v6h-7zM709 345h6v6h-6zM980 351h6v7h-6zM747 358h7v6h-7zM980 358h6v6h-6zM535 364h13v7h-13zM909 364h6v7h-6zM980 364h6v7h-6zM767 371h6v6h-6zM915 371h7v6h-7zM928 371h6v6h-6zM980 371h6v6h-6zM528 377h7v7h-7zM780 384h6v6h-6zM528 390h7v6h-7zM709 396h6v7h-6zM773 396h7v7h-7zM986 396h6v7h-6zM702 409h20v7h-20zM1031 409h7v7h-7zM709 416h6v6h-6zM709 422h6v7h-6zM618 429h7v6h-7zM676 429h7v6h-7zM709 429h6v6h-6zM934 435h7v7h-7zM631 442h7v6h-7zM644 442h7v6h-7zM625 448h6v6h-6zM638 448h6v6h-6zM676 448h7v6h-7zM915 454h7v7h-7zM425 461h6v6h-6zM528 461h7v6h-7zM541 461h7v6h-7zM560 461h7v6h-7zM573 461h7v6h-7zM664 461h6v6h-6zM799 461h6v6h-6zM864 461h12v6h-12zM909 461h6v6h-6zM399 467h7v7h-7zM522 467h6v7h-6zM573 467h13v7h-13zM618 467h7v7h-7zM799 467h6v7h-6zM876 467h7v7h-7zM393 474h6v6h-6zM586 474h7v6h-7zM612 474h6v6h-6zM780 474h6v6h-6zM876 474h7v6h-7zM599 480h7v7h-7zM767 480h6v7h-6zM696 487h6v6h-6zM741 487h13v6h-13zM296 493h6v7h-6zM341 493h7v7h-7zM831 493h7v7h-7zM270 500h13v6h-13zM509 500h6v6h-6zM522 500h6v6h-6zM702 500h13v6h-13zM786 500h32v6h-32zM657 506h7v6h-7zM676 506h7v6h-7zM696 506h6v6h-6zM760 506h7v6h-7zM270 512h7v7h-7zM290 512h6v7h-6zM522 512h6v7h-6zM535 512h6v7h-6zM586 512h7v7h-7zM702 512h7v7h-7zM715 512h7v7h-7zM728 512h32v7h-32zM1154 512h6v7h-6zM225 519h7v6h-7zM296 519h6v6h-6zM515 519h13v6h-13zM541 519h7v6h-7zM580 519h6v6h-6zM638 519h6v6h-6zM167 525h6v7h-6zM225 525h13v7h-13zM328 525h7v7h-7zM522 525h6v7h-6zM541 525h7v7h-7zM947 525h7v7h-7zM167 532h6v6h-6zM302 532h7v6h-7zM322 532h13v6h-13zM515 532h7v6h-7zM702 532h7v6h-7zM722 532h13v6h-13zM941 532h6v6h-6zM960 532h7v6h-7zM251 538h6v7h-6zM315 538h13v7h-13zM393 538h6v7h-6zM522 538h13v7h-13zM573 538h7v7h-7zM715 538h7v7h-7z"/>
<path fill="#ffa300" d="M941 319h6v6h-6zM954 325h6v7h-6zM947 338h7v7h-7zM715 345h7v6h-7zM728 345h7v6h-7zM741 351h6v7h-6zM702 358h7v6h-7zM709 364h6v7h-6zM747 364h7v7h-7zM548 371h6v6h-6zM760 371h7v6h-7zM922 371h6v6h-6zM548 377h6v7h-6zM773 377h7v7h-7zM825 377h6v7h-6zM528 384h7v6h-7zM773 390h7v6h-7zM805 396h7v7h-7zM967 403h6v6h-6zM593 409h6v7h-6zM722 409h6v7h-6zM954 409h6v7h-6zM715 416h7v6h-7zM528 422h7v7h-7zM702 422h7v7h-7zM722 422h6v7h-6zM715 429h7v6h-7zM625 435h6v7h-6zM722 435h6v7h-6zM496 442h6v6h-6zM722 442h6v6h-6zM922 442h6v6h-6zM457 448h7v6h-7zM631 448h7v6h-7zM444 454h7v7h-7zM554 454h6v7h-6zM670 454h6v7h-6zM844 454h13v7h-13zM909 454h6v7h-6zM431 461h7v6h-7zM567 461h6v6h-6zM896 461h6v6h-6zM780 467h19v7h-19zM883 467h6v7h-6zM909 467h13v7h-13zM489 474h7v6h-7zM515 474h7v6h-7zM1025 474h6v6h-6zM593 480h6v7h-6zM741 480h6v7h-6zM760 480h7v7h-7zM315 487h7v6h-7zM341 487h7v6h-7zM689 487h7v6h-7zM702 487h7v6h-7zM722 487h6v6h-6zM735 487h6v6h-6zM870 487h6v6h-6zM1044 487h7v6h-7zM290 493h6v7h-6zM302 493h7v7h-7zM715 493h7v7h-7zM838 493h6v7h-6zM257 500h13v6h-13zM283 500h7v6h-7zM515 500h7v6h-7zM683 500h6v6h-6zM270 506h20v6h-20zM335 506h6v6h-6zM393 506h6v6h-6zM522 506h6v6h-6zM664 506h6v6h-6zM702 506h13v6h-13zM767 506h6v6h-6zM225 512h7v7h-7zM264 512h6v7h-6zM328 512h7v7h-7zM393 512h6v7h-6zM515 512h7v7h-7zM528 512h7v7h-7zM709 512h6v7h-6zM232 519h6v6h-6zM264 519h6v6h-6zM328 519h7v6h-7zM393 519h6v6h-6zM535 519h6v6h-6zM715 519h32v6h-32zM251 525h13v7h-13zM302 525h7v7h-7zM528 525h7v7h-7zM715 525h7v7h-7zM728 525h7v7h-7zM741 525h6v7h-6zM941 525h6v7h-6zM954 525h13v7h-13zM225 532h7v6h-7zM244 532h13v6h-13zM393 532h6v6h-6zM522 532h6v6h-6zM535 532h6v6h-6zM709 532h13v6h-13zM954 532h6v6h-6zM167 538h6v7h-6zM232 538h6v7h-6zM244 538h7v7h-7zM722 538h6v7h-6zM960 538h7v7h-7z"/>
<path fill="#ff9700" d="M934 313h7v6h-7zM960 332h7v6h-7zM973 345h7v6h-7zM689 351h13v7h-13zM741 358h6v6h-6zM870 364h6v7h-6zM883 364h6v7h-6zM747 371h13v6h-13zM947 371h7v6h-7zM541 377h7v7h-7zM554 384h6v6h-6zM722 384h6v6h-6zM735 384h12v6h-12zM773 384h7v6h-7zM722 390h13v6h-13zM812 390h6v6h-6zM722 396h13v7h-13zM535 403h6v6h-6zM586 403h7v6h-7zM715 403h13v6h-13zM799 403h6v6h-6zM960 403h7v6h-7zM728 409h7v7h-7zM799 409h6v7h-6zM599 416h7v6h-7zM722 416h6v6h-6zM606 422h6v7h-6zM715 422h7v7h-7zM528 429h7v6h-7zM722 429h6v6h-6zM522 435h6v7h-6zM625 442h6v6h-6zM715 448h7v6h-7zM548 454h6v7h-6zM560 454h7v7h-7zM625 454h6v7h-6zM838 454h6v7h-6zM864 454h6v7h-6zM883 454h6v7h-6zM438 461h6v6h-6zM522 461h6v6h-6zM580 461h13v6h-13zM625 461h6v6h-6zM793 461h6v6h-6zM876 461h7v6h-7zM889 461h7v6h-7zM902 461h7v6h-7zM406 467h6v7h-6zM515 467h7v7h-7zM586 467h13v7h-13zM664 467h6v7h-6zM889 467h7v7h-7zM399 474h13v6h-13zM767 474h13v6h-13zM335 480h6v7h-6zM477 480h6v7h-6zM606 480h6v7h-6zM754 480h6v7h-6zM883 480h6v7h-6zM322 487h6v6h-6zM393 487h6v6h-6zM709 487h13v6h-13zM315 493h7v7h-7zM328 493h7v7h-7zM393 493h6v7h-6zM676 493h13v7h-13zM696 493h19v7h-19zM225 500h26v6h-26zM290 500h6v6h-6zM335 500h6v6h-6zM664 500h12v6h-12zM689 500h13v6h-13zM818 500h13v6h-13zM225 506h7v6h-7zM257 506h13v6h-13zM290 506h6v6h-6zM515 506h7v6h-7zM651 506h6v6h-6zM773 506h7v6h-7zM232 512h6v7h-6zM257 512h7v7h-7zM257 519h7v6h-7zM528 519h7v6h-7zM709 519h6v6h-6zM747 519h7v6h-7zM934 519h7v6h-7zM154 525h7v7h-7zM244 525h7v7h-7zM309 525h6v7h-6zM322 525h6v7h-6zM393 525h6v7h-6zM580 525h6v7h-6zM709 525h6v7h-6zM722 525h6v7h-6zM735 525h6v7h-6zM967 525h6v7h-6zM1186 525h6v7h-6zM161 532h6v6h-6zM232 532h6v6h-6zM315 532h7v6h-7zM399 532h7v6h-7zM967 532h13v6h-13zM161 538h6v7h-6zM238 538h6v7h-6zM399 538h7v7h-7zM631 538h7v7h-7zM709 538h6v7h-6zM967 538h13v7h-13z"/>
<path fill="#ff8b00" d="M947 332h7v6h-7zM722 345h6v6h-6zM954 345h6v6h-6zM702 351h7v7h-7zM709 358h6v6h-6zM735 358h6v6h-6zM954 358h6v6h-6zM715 364h7v7h-7zM741 364h6v7h-6zM876 364h7v7h-7zM889 364h7v7h-7zM902 364h7v7h-7zM954 364h6v7h-6zM967 364h6v7h-6zM528 371h7v6h-7zM541 371h7v6h-7zM715 371h7v6h-7zM838 371h26v6h-26zM535 377h6v7h-6zM722 377h6v7h-6zM747 377h13v7h-13zM767 377h6v7h-6zM934 377h13v7h-13zM541 384h7v6h-7zM728 384h7v6h-7zM818 384h7v6h-7zM986 384h6v6h-6zM741 390h6v6h-6zM535 396h6v7h-6zM573 396h7v7h-7zM735 396h12v7h-12zM980 396h6v7h-6zM735 403h12v6h-12zM728 416h7v6h-7zM805 416h7v6h-7zM947 416h7v6h-7zM728 422h7v7h-7zM812 422h6v7h-6zM947 422h7v7h-7zM612 429h6v6h-6zM773 429h7v6h-7zM618 435h7v7h-7zM464 448h6v6h-6zM876 448h13v6h-13zM909 448h13v6h-13zM535 454h13v7h-13zM567 454h13v7h-13zM857 454h7v7h-7zM870 454h13v7h-13zM902 454h7v7h-7zM883 461h6v6h-6zM412 467h13v7h-13zM509 467h6v7h-6zM773 467h7v7h-7zM896 467h13v7h-13zM593 474h19v6h-19zM651 474h6v6h-6zM760 474h7v6h-7zM883 474h6v6h-6zM960 474h7v6h-7zM702 480h13v7h-13zM722 480h13v7h-13zM747 480h7v7h-7zM470 487h7v6h-7zM683 487h6v6h-6zM728 487h7v6h-7zM876 487h7v6h-7zM309 493h6v7h-6zM670 493h6v7h-6zM689 493h7v7h-7zM844 493h7v7h-7zM251 500h6v6h-6zM302 500h7v6h-7zM328 500h7v6h-7zM393 500h6v6h-6zM676 500h7v6h-7zM831 500h7v6h-7zM232 506h6v6h-6zM251 506h6v6h-6zM322 506h13v6h-13zM399 506h7v6h-7zM780 506h6v6h-6zM251 512h6v7h-6zM296 512h13v7h-13zM322 512h6v7h-6zM760 512h13v7h-13zM1141 512h6v7h-6zM302 519h7v6h-7zM322 519h6v6h-6zM754 519h6v6h-6zM161 525h6v7h-6zM315 525h7v7h-7zM154 532h7v6h-7zM238 532h6v6h-6zM741 532h6v6h-6zM148 538h13v7h-13zM728 538h7v7h-7zM902 538h7v7h-7z"/>
<path fill="#ff8000" d="M954 338h6v7h-6zM967 345h6v6h-6zM709 351h6v7h-6zM735 351h6v7h-6zM954 351h6v7h-6zM735 364h6v7h-6zM960 364h7v7h-7zM535 371h6v6h-6zM722 371h6v6h-6zM741 371h6v6h-6zM864 371h6v6h-6zM954 371h6v6h-6zM735 377h12v7h-12zM760 377h7v7h-7zM831 377h7v7h-7zM548 384h6v6h-6zM747 384h7v6h-7zM554 390h6v6h-6zM735 390h6v6h-6zM747 390h7v6h-7zM986 390h6v6h-6zM567 396h6v7h-6zM728 403h7v6h-7zM947 403h13v6h-13zM735 409h6v7h-6zM728 429h7v6h-7zM941 429h6v6h-6zM728 435h7v7h-7zM928 435h6v7h-6zM502 442h7v6h-7zM915 442h7v6h-7zM548 448h12v6h-12zM722 448h6v6h-6zM889 448h7v6h-7zM451 454h13v7h-13zM618 454h7v7h-7zM889 454h13v7h-13zM618 461h7v6h-7zM780 461h6v6h-6zM431 467h7v7h-7zM502 467h7v7h-7zM599 467h7v7h-7zM612 467h6v7h-6zM412 474h13v6h-13zM889 474h7v6h-7zM967 474h6v6h-6zM393 480h6v7h-6zM644 480h7v7h-7zM689 480h7v7h-7zM715 480h7v7h-7zM735 480h6v7h-6zM328 487h7v6h-7zM406 487h6v6h-6zM638 487h6v6h-6zM335 493h6v7h-6zM296 500h6v6h-6zM315 500h13v6h-13zM238 506h6v6h-6zM296 506h6v6h-6zM309 506h6v6h-6zM786 506h7v6h-7zM238 512h13v7h-13zM309 512h6v7h-6zM922 512h6v7h-6zM238 519h19v6h-19zM309 519h13v6h-13zM399 519h13v6h-13zM941 519h6v6h-6zM954 519h6v6h-6zM1180 519h6v6h-6zM148 525h6v7h-6zM238 525h6v7h-6zM399 525h13v7h-13zM631 525h7v7h-7zM148 532h6v6h-6zM631 532h7v6h-7zM735 532h6v6h-6zM406 538h6v7h-6zM735 538h6v7h-6zM980 538h6v7h-6z"/>
<path fill="#ff7400" d="M954 332h6v6h-6zM960 338h7v7h-7zM715 358h7v6h-7zM960 358h20v6h-20zM722 364h6v7h-6zM973 364h7v7h-7zM728 371h7v6h-7zM870 371h6v6h-6zM960 371h13v6h-13zM728 377h7v7h-7zM928 377h6v7h-6zM947 377h7v7h-7zM980 377h6v7h-6zM535 384h6v6h-6zM754 384h6v6h-6zM535 390h19v6h-19zM541 396h7v7h-7zM812 396h6v7h-6zM973 396h7v7h-7zM535 409h6v7h-6zM741 409h6v7h-6zM767 409h6v7h-6zM947 409h7v7h-7zM812 429h6v6h-6zM612 435h6v7h-6zM728 442h7v6h-7zM560 448h7v6h-7zM870 448h6v6h-6zM676 454h7v7h-7zM444 461h7v6h-7zM515 461h7v6h-7zM593 461h6v6h-6zM670 461h6v6h-6zM786 461h7v6h-7zM425 467h6v7h-6zM438 467h6v7h-6zM606 467h6v7h-6zM425 474h13v6h-13zM754 474h6v6h-6zM973 474h13v6h-13zM399 480h7v7h-7zM696 480h6v7h-6zM889 480h7v7h-7zM399 487h7v6h-7zM676 487h7v6h-7zM322 493h6v7h-6zM406 493h6v7h-6zM851 493h6v7h-6zM309 500h6v6h-6zM657 500h7v6h-7zM838 500h6v6h-6zM244 506h7v6h-7zM302 506h7v6h-7zM315 506h7v6h-7zM406 506h6v6h-6zM793 506h19v6h-19zM399 512h13v7h-13zM773 512h7v7h-7zM760 519h7v6h-7zM909 519h6v6h-6zM960 519h13v6h-13zM747 525h13v7h-13zM973 525h13v7h-13zM406 532h6v6h-6zM747 532h7v6h-7zM625 538h6v7h-6zM986 538h6v7h-6z"/>
<path fill="#ff6800" d="M960 345h7v6h-7zM715 351h7v7h-7zM960 351h13v7h-13zM722 358h6v6h-6zM896 364h6v7h-6zM735 371h6v6h-6zM909 371h6v6h-6zM973 371h7v6h-7zM767 384h6v6h-6zM560 396h7v7h-7zM747 396h13v7h-13zM960 396h13v7h-13zM580 403h6v6h-6zM747 403h13v6h-13zM767 403h6v6h-6zM586 409h7v7h-7zM747 409h7v7h-7zM535 416h6v6h-6zM735 416h6v6h-6zM528 435h7v7h-7zM780 435h6v7h-6zM922 435h6v7h-6zM876 442h7v6h-7zM470 448h7v6h-7zM483 448h6v6h-6zM541 448h7v6h-7zM567 448h6v6h-6zM618 448h7v6h-7zM844 448h13v6h-13zM896 448h13v6h-13zM528 454h7v7h-7zM831 454h7v7h-7zM599 461h7v6h-7zM612 461h6v6h-6zM767 467h6v7h-6zM657 474h7v6h-7zM741 474h13v6h-13zM896 474h6v6h-6zM986 474h6v6h-6zM406 480h19v7h-19zM683 480h6v7h-6zM1031 480h7v7h-7zM335 487h6v6h-6zM412 487h7v6h-7zM883 487h6v6h-6zM399 493h7v7h-7zM412 493h7v7h-7zM664 493h6v7h-6zM857 493h7v7h-7zM1057 493h6v7h-6zM399 500h13v6h-13zM412 506h7v6h-7zM812 506h13v6h-13zM315 512h7v7h-7zM412 512h7v7h-7zM767 519h6v6h-6zM947 519h7v6h-7zM412 525h7v7h-7zM902 532h7v6h-7zM980 532h6v6h-6zM741 538h6v7h-6z"/>
<path fill="#ff5c00" d="M728 351h7v7h-7zM973 351h7v7h-7zM728 364h7v7h-7zM838 377h6v7h-6zM922 377h6v7h-6zM760 384h7v6h-7zM825 384h6v6h-6zM754 390h6v6h-6zM947 396h13v7h-13zM541 403h7v6h-7zM760 403h7v6h-7zM805 403h7v6h-7zM941 403h6v6h-6zM754 409h6v7h-6zM805 409h7v7h-7zM941 409h6v7h-6zM593 416h6v6h-6zM767 416h6v6h-6zM812 416h6v6h-6zM535 422h6v7h-6zM599 422h7v7h-7zM735 422h6v7h-6zM606 429h6v6h-6zM786 435h13v7h-13zM509 442h6v6h-6zM548 442h19v6h-19zM618 442h7v6h-7zM883 442h13v6h-13zM909 442h6v6h-6zM477 448h6v6h-6zM489 448h13v6h-13zM573 448h7v6h-7zM728 448h7v6h-7zM857 448h13v6h-13zM489 454h7v7h-7zM580 454h6v7h-6zM702 454h7v7h-7zM606 461h6v6h-6zM496 467h6v7h-6zM760 467h7v7h-7zM483 474h6v6h-6zM934 474h26v6h-26zM992 474h7v6h-7zM425 480h6v7h-6zM470 480h7v7h-7zM419 487h12v6h-12zM419 493h6v7h-6zM412 500h13v6h-13zM1083 500h6v6h-6zM419 512h6v7h-6zM638 512h6v7h-6zM412 519h7v6h-7zM973 519h7v6h-7zM760 525h7v7h-7zM412 532h7v6h-7zM1186 532h6v6h-6zM412 538h7v7h-7zM747 538h7v7h-7z"/>
<path fill="#ff5000" d="M728 358h7v6h-7zM876 371h13v6h-13zM915 377h7v7h-7zM954 377h13v7h-13zM760 390h13v6h-13zM818 390h7v6h-7zM980 390h6v6h-6zM767 396h6v7h-6zM541 409h7v7h-7zM767 422h6v7h-6zM535 429h6v6h-6zM735 429h6v6h-6zM934 429h7v6h-7zM606 435h6v7h-6zM799 435h6v7h-6zM915 435h7v7h-7zM896 442h13v6h-13zM464 454h6v7h-6zM483 454h6v7h-6zM586 454h32v7h-32zM825 454h6v7h-6zM451 461h6v6h-6zM438 474h6v6h-6zM715 474h13v6h-13zM735 474h6v6h-6zM902 474h7v6h-7zM431 480h7v7h-7zM670 487h6v6h-6zM464 500h6v6h-6zM419 506h6v6h-6zM644 506h7v6h-7zM825 506h6v6h-6zM915 512h7v7h-7zM928 512h6v7h-6zM593 519h6v6h-6zM631 519h7v6h-7zM580 532h6v6h-6zM754 532h6v6h-6zM986 532h6v6h-6zM896 538h6v7h-6zM992 538h7v7h-7z"/>
<path fill="#ff4400" d="M722 351h6v7h-6zM844 377h26v7h-26zM967 377h6v7h-6zM928 384h26v6h-26zM554 396h6v7h-6zM760 396h7v7h-7zM941 396h6v7h-6zM573 403h7v6h-7zM812 403h6v6h-6zM760 409h7v7h-7zM812 409h6v7h-6zM741 416h6v6h-6zM941 416h6v6h-6zM535 435h19v7h-19zM735 435h6v7h-6zM909 435h6v7h-6zM535 442h13v6h-13zM567 442h13v6h-13zM612 442h6v6h-6zM735 442h6v6h-6zM870 442h6v6h-6zM535 448h6v6h-6zM612 448h6v6h-6zM838 448h6v6h-6zM470 454h13v7h-13zM496 454h13v7h-13zM522 454h6v7h-6zM683 454h6v7h-6zM696 454h6v7h-6zM818 454h7v7h-7zM502 461h13v6h-13zM767 461h13v6h-13zM444 467h7v7h-7zM754 467h6v7h-6zM709 474h6v6h-6zM728 474h7v6h-7zM909 474h6v6h-6zM999 474h13v6h-13zM1018 474h7v6h-7zM431 487h7v6h-7zM425 493h6v7h-6zM464 493h6v7h-6zM864 493h6v7h-6zM651 500h6v6h-6zM844 500h7v6h-7zM464 506h6v6h-6zM831 506h7v6h-7zM464 512h6v7h-6zM419 519h6v6h-6zM419 525h6v7h-6zM986 525h6v7h-6zM992 532h7v6h-7zM618 538h7v7h-7zM1186 538h6v7h-6z"/>
<path fill="#ff3900" d="M889 371h20v6h-20zM909 377h6v7h-6zM973 377h7v7h-7zM831 384h7v6h-7zM954 384h6v6h-6zM980 384h6v6h-6zM825 390h6v6h-6zM954 390h13v6h-13zM973 390h7v6h-7zM548 396h6v7h-6zM818 396h7v7h-7zM934 396h7v7h-7zM560 403h13v6h-13zM580 409h6v7h-6zM541 416h7v6h-7zM586 416h7v6h-7zM747 416h13v6h-13zM593 422h6v7h-6zM818 422h7v7h-7zM941 422h6v7h-6zM599 429h7v6h-7zM767 429h6v6h-6zM928 429h6v6h-6zM554 435h6v7h-6zM773 435h7v7h-7zM883 435h6v7h-6zM515 442h13v6h-13zM606 442h6v6h-6zM844 442h13v6h-13zM502 448h7v6h-7zM528 448h7v6h-7zM586 448h7v6h-7zM606 448h6v6h-6zM515 454h7v7h-7zM689 454h7v7h-7zM812 454h6v7h-6zM457 461h7v6h-7zM489 461h7v6h-7zM483 467h6v7h-6zM670 467h6v7h-6zM477 474h6v6h-6zM1012 474h6v6h-6zM438 480h6v7h-6zM676 480h7v7h-7zM464 487h6v6h-6zM425 500h6v6h-6zM1102 506h7v6h-7zM780 512h13v7h-13zM954 512h13v7h-13zM773 519h7v6h-7zM980 519h6v6h-6zM902 525h7v7h-7zM419 532h6v6h-6zM625 532h6v6h-6zM760 532h7v6h-7zM419 538h6v7h-6zM754 538h6v7h-6zM999 538h6v7h-6z"/>
<path fill="#ff2d00" d="M876 377h7v7h-7zM960 384h13v6h-13zM934 390h20v6h-20zM967 390h6v6h-6zM548 403h6v6h-6zM934 403h7v6h-7zM573 409h7v7h-7zM741 422h13v7h-13zM541 429h7v6h-7zM915 429h13v6h-13zM560 435h7v7h-7zM599 435h7v7h-7zM805 435h7v7h-7zM528 442h7v6h-7zM599 442h7v6h-7zM857 442h13v6h-13zM509 448h13v6h-13zM580 448h6v6h-6zM735 448h6v6h-6zM509 454h6v7h-6zM805 454h7v7h-7zM464 461h6v6h-6zM477 461h6v6h-6zM496 461h6v6h-6zM760 461h7v6h-7zM470 467h13v7h-13zM489 467h7v7h-7zM444 474h7v6h-7zM470 474h7v6h-7zM702 474h7v6h-7zM928 474h6v6h-6zM444 480h7v7h-7zM431 493h7v7h-7zM657 493h7v7h-7zM425 506h6v6h-6zM838 506h6v6h-6zM934 512h13v7h-13zM967 512h13v7h-13zM464 519h6v6h-6zM586 525h7v7h-7zM767 525h6v7h-6zM1005 538h7v7h-7zM1031 538h7v7h-7z"/>
<path fill="#ff2100" d="M870 377h6v7h-6zM838 384h6v6h-6zM922 384h6v6h-6zM973 384h7v6h-7zM928 390h6v6h-6zM825 396h6v7h-6zM818 403h7v6h-7zM818 409h7v7h-7zM934 409h7v7h-7zM580 416h6v6h-6zM760 416h7v6h-7zM934 416h7v6h-7zM541 422h7v7h-7zM760 422h7v7h-7zM741 429h6v6h-6zM909 429h6v6h-6zM567 435h6v7h-6zM580 435h6v7h-6zM889 435h20v7h-20zM580 442h6v6h-6zM522 448h6v6h-6zM593 448h13v6h-13zM831 448h7v6h-7zM799 454h6v7h-6zM470 461h7v6h-7zM483 461h6v6h-6zM451 467h19v7h-19zM722 467h6v7h-6zM735 467h19v7h-19zM696 474h6v6h-6zM896 480h6v7h-6zM438 487h6v6h-6zM889 487h7v6h-7zM631 493h7v7h-7zM870 493h6v7h-6zM431 500h7v6h-7zM851 500h6v6h-6zM947 512h7v7h-7zM464 525h6v7h-6zM625 525h6v7h-6zM992 525h7v7h-7zM999 532h13v6h-13zM760 538h7v7h-7zM1012 538h6v7h-6z"/>
<path fill="#ff1500" d="M883 377h6v7h-6zM844 384h7v6h-7zM915 384h7v6h-7zM928 396h6v7h-6zM554 403h6v6h-6zM825 403h6v6h-6zM825 409h6v7h-6zM928 409h6v7h-6zM818 416h7v6h-7zM928 416h6v6h-6zM586 422h7v7h-7zM754 422h6v7h-6zM857 422h7v7h-7zM922 422h19v7h-19zM548 429h6v6h-6zM567 429h6v6h-6zM580 429h6v6h-6zM593 429h6v6h-6zM754 429h6v6h-6zM818 429h7v6h-7zM573 435h7v7h-7zM586 435h7v7h-7zM586 442h7v6h-7zM838 442h6v6h-6zM709 454h6v7h-6zM786 454h13v7h-13zM676 461h7v6h-7zM754 461h6v6h-6zM728 467h7v7h-7zM922 474h6v6h-6zM464 480h6v7h-6zM664 487h6v6h-6zM1038 487h6v6h-6zM438 493h6v7h-6zM1051 493h6v7h-6zM425 512h6v7h-6zM793 512h12v7h-12zM812 512h6v7h-6zM425 519h6v6h-6zM780 519h6v6h-6zM986 519h6v6h-6zM773 525h7v7h-7zM464 532h6v6h-6zM618 532h7v6h-7zM767 532h6v6h-6zM896 532h6v6h-6zM464 538h6v7h-6z"/>
<path fill="#f30900" d="M889 377h7v7h-7zM902 377h7v7h-7zM851 384h13v6h-13zM889 384h7v6h-7zM831 390h7v6h-7zM857 390h7v6h-7zM896 390h6v6h-6zM909 390h6v6h-6zM922 390h6v6h-6zM831 396h13v7h-13zM915 396h13v7h-13zM909 403h6v6h-6zM928 403h6v6h-6zM548 409h6v7h-6zM567 409h6v7h-6zM909 409h6v7h-6zM922 409h6v7h-6zM573 416h7v6h-7zM825 416h6v6h-6zM922 416h6v6h-6zM554 422h6v7h-6zM580 422h6v7h-6zM915 422h7v7h-7zM560 429h7v6h-7zM573 429h7v6h-7zM586 429h7v6h-7zM747 429h7v6h-7zM760 429h7v6h-7zM851 429h13v6h-13zM902 429h7v6h-7zM593 435h6v7h-6zM741 435h19v7h-19zM767 435h6v7h-6zM593 442h6v6h-6zM741 442h13v6h-13zM741 448h6v6h-6zM715 467h7v7h-7zM451 474h6v6h-6zM915 474h7v6h-7zM644 500h7v6h-7zM431 506h7v6h-7zM631 512h7v7h-7zM805 512h7v7h-7zM618 519h7v6h-7zM799 519h6v6h-6zM618 525h7v7h-7zM999 525h6v7h-6zM425 532h6v6h-6zM1012 532h13v6h-13zM599 538h7v7h-7zM767 538h13v7h-13zM1018 538h13v7h-13zM1038 538h6v7h-6z"/>
<path fill="#e50000" d="M896 377h6v7h-6zM870 384h6v6h-6zM883 384h6v6h-6zM902 384h13v6h-13zM838 390h19v6h-19zM889 390h7v6h-7zM844 396h7v7h-7zM902 396h13v7h-13zM831 403h13v6h-13zM915 403h7v6h-7zM554 409h13v7h-13zM915 409h7v7h-7zM548 416h6v6h-6zM560 416h13v6h-13zM915 416h7v6h-7zM548 422h6v7h-6zM560 422h20v7h-20zM825 422h13v7h-13zM554 429h6v6h-6zM844 429h7v6h-7zM754 442h32v6h-32zM818 448h7v6h-7zM683 461h6v6h-6zM464 474h6v6h-6zM451 480h13v7h-13zM451 493h6v7h-6zM876 493h7v7h-7zM638 506h6v6h-6zM844 506h7v6h-7zM922 506h12v6h-12zM818 512h7v7h-7zM980 512h6v7h-6zM625 519h6v6h-6zM793 519h6v6h-6zM805 519h7v6h-7zM425 525h6v7h-6zM606 525h12v7h-12zM780 525h13v7h-13zM1005 525h7v7h-7zM1180 525h6v7h-6zM599 532h13v6h-13zM773 532h7v6h-7zM1025 532h6v6h-6zM606 538h12v7h-12zM780 538h6v7h-6z"/>
<path fill="#d60000" d="M864 384h6v6h-6zM876 384h7v6h-7zM902 390h7v6h-7zM915 390h7v6h-7zM851 396h13v7h-13zM889 396h13v7h-13zM902 403h7v6h-7zM922 403h6v6h-6zM554 416h6v6h-6zM831 416h13v6h-13zM909 416h6v6h-6zM838 422h19v7h-19zM864 422h12v7h-12zM909 422h6v7h-6zM825 429h19v6h-19zM870 429h26v6h-26zM760 435h7v7h-7zM831 442h7v6h-7zM747 448h13v6h-13zM805 448h13v6h-13zM825 448h6v6h-6zM715 454h7v7h-7zM780 454h6v7h-6zM747 461h7v6h-7zM457 474h7v6h-7zM664 474h6v6h-6zM689 474h7v6h-7zM651 480h6v7h-6zM444 487h20v6h-20zM444 493h7v7h-7zM457 493h7v7h-7zM438 500h6v6h-6zM857 500h7v6h-7zM431 512h7v7h-7zM825 512h6v7h-6zM786 519h7v6h-7zM812 519h6v6h-6zM431 525h7v7h-7zM799 525h6v7h-6zM612 532h6v6h-6zM780 532h13v6h-13zM425 538h13v7h-13zM786 538h7v7h-7z"/>
<path fill="#c80000" d="M864 390h6v6h-6zM864 396h6v7h-6zM876 396h13v7h-13zM831 409h13v7h-13zM864 429h6v6h-6zM896 429h6v6h-6zM870 435h13v7h-13zM689 461h7v6h-7zM709 467h6v7h-6zM902 480h7v7h-7zM651 493h6v7h-6zM457 500h7v6h-7zM625 500h6v6h-6zM864 500h6v6h-6zM438 506h6v6h-6zM625 506h6v6h-6zM934 506h7v6h-7zM947 506h26v6h-26zM606 512h6v7h-6zM625 512h6v7h-6zM831 512h7v7h-7zM431 519h7v6h-7zM612 519h6v6h-6zM818 519h7v6h-7zM793 525h6v7h-6zM1012 525h6v7h-6zM431 532h7v6h-7zM793 532h6v6h-6zM1031 532h7v6h-7zM593 538h6v7h-6zM889 538h7v7h-7z"/>
<path fill="#b90000" d="M896 384h6v6h-6zM870 396h6v7h-6zM844 416h7v6h-7zM812 435h6v7h-6zM844 435h7v7h-7zM857 435h13v7h-13zM786 442h7v6h-7zM760 448h7v6h-7zM696 461h6v6h-6zM709 461h13v6h-13zM735 461h12v6h-12zM696 467h13v7h-13zM631 500h7v6h-7zM631 506h7v6h-7zM851 506h6v6h-6zM941 506h6v6h-6zM902 519h7v6h-7zM1173 519h7v6h-7zM1018 525h7v7h-7zM1038 532h6v6h-6zM580 538h13v7h-13zM793 538h6v7h-6zM1044 538h7v7h-7zM1180 538h6v7h-6z"/>
<path fill="#ab0000" d="M883 390h6v6h-6zM851 416h13v6h-13zM883 422h6v7h-6zM896 422h13v7h-13zM851 435h6v7h-6zM799 448h6v6h-6zM773 454h7v7h-7zM702 461h7v6h-7zM728 461h7v6h-7zM676 467h7v7h-7zM683 474h6v6h-6zM1025 480h6v7h-6zM644 487h7v6h-7zM896 487h6v6h-6zM883 493h6v7h-6zM444 500h7v6h-7zM1076 500h7v6h-7zM618 506h7v6h-7zM909 512h6v7h-6zM992 519h7v6h-7zM805 525h7v7h-7zM1025 525h6v7h-6zM1051 538h6v7h-6z"/>
<path fill="#9c0000" d="M870 390h13v6h-13zM902 409h7v7h-7zM864 416h6v6h-6zM876 422h7v7h-7zM889 422h7v7h-7zM838 435h6v7h-6zM825 442h6v6h-6zM767 448h6v6h-6zM722 454h6v7h-6zM670 480h6v7h-6zM909 480h6v7h-6zM870 500h6v6h-6zM457 506h7v6h-7zM915 506h7v6h-7zM973 506h7v6h-7zM438 512h6v7h-6zM599 525h7v7h-7zM1180 532h6v6h-6zM438 538h6v7h-6z"/>
<path fill="#8e0000" d="M818 435h7v7h-7zM451 500h6v6h-6zM857 506h7v6h-7zM838 512h6v7h-6zM593 532h6v6h-6zM889 532h7v6h-7zM457 538h7v7h-7zM883 538h6v7h-6z"/>
<path fill="#800000" d="M844 403h58v6h-58zM844 409h58v7h-58zM870 416h39v6h-39zM825 435h13v7h-13zM793 442h32v6h-32zM773 448h26v6h-26zM728 454h45v7h-45zM722 461h6v6h-6zM683 467h13v7h-13zM670 474h13v6h-13zM657 480h13v7h-13zM915 480h110v7h-110zM651 487h13v6h-13zM902 487h136v6h-136zM638 493h13v7h-13zM889 493h162v7h-162zM638 500h6v6h-6zM876 500h200v6h-200zM444 506h13v6h-13zM864 506h51v6h-51zM980 506h122v6h-122zM444 512h20v7h-20zM612 512h13v7h-13zM844 512h65v7h-65zM986 512h155v7h-155zM438 519h26v6h-26zM599 519h13v6h-13zM825 519h77v6h-77zM999 519h174v6h-174zM438 525h26v7h-26zM593 525h6v7h-6zM812 525h90v7h-90zM1031 525h149v7h-149zM438 532h26v6h-26zM586 532h7v6h-7zM799 532h90v6h-90zM1044 532h136v6h-136zM444 538h13v7h-13zM799 538h84v7h-84zM1057 538h123v7h-123z"/></g>
<g stroke="#000" stroke-width="1.39" stroke-linejoin="miter" stroke-miterlimit="4">
<path fill="#d2b48c" d="M152,59 1310,59 1310,271 1305,270.5 1237.5,303.8 1234,308 1229,305.5 1232,303 1239.5,290 1236.5,293.5 1233,291 1233.5,294.5 1229,296 1224,293.5 1226.5,298 1222,301 1220,303.5 1216.5,302 1215.5,305.5 1214,304.5 1211.5,308.5 1192.5,308.8 1167.5,315 1157,316.5 1150,315 1143.8,317.5 1140,312.5 1133.8,297.5 1132,282.5 1136.2,278.8 1135.5,295 1143,313.5 1152,313.5 1153.8,295 1151.2,288.8 1142.5,277.5 1132.5,266.2 1118.8,260.5 1107,253.5 1120,255.5 1105,243.8 1091.2,235.5 1080,227.5 1074,226 1071.5,229.5 1062,224 1050,219.5 1030,208.5 1010,198.8 985,190 961.2,183.8 920,178 923.8,173.8 955,177.5 957.5,172 956,177.5 971.2,178.8 966.2,174.5 971.2,172.5 981.2,177.5 995,182 997.5,177.5 991.2,172.5 995,171.2 987.5,168.8 991.2,162.5 982.5,166.2 978.8,159.5 975,163 970,158 965,161.2 955,162 937.5,167 931.2,158.8 936.2,156.2 930,156.2 926.2,161.2 922.5,154.5 925,162 913.8,166.2 911.2,170 904.5,168.8 903,163.8 900,171.2 904.2,171.2 903.8,175.5 880,175.5 850,175.5 825,178 800,183.8 789.5,187.5 786.2,183.8 791.2,182.5 797.5,181.2 807.5,177.5 820,175.5 826.2,173.8 835,166.2 841.2,169.5 847.5,169.5 840,168 833.8,163.8 822.5,156.2 823.8,147.5 827,142 819.5,137 823.8,143.8 820,150 815,156.2 810,168 805,168 806.2,156.2 798,151.2 800,148 796.2,147.5 793.8,142 788.8,142.5 787.5,145 790,151.2 795,157.5 790,172.5 772,182.5 772.5,187.5 765,188.5 742.5,195.6 715,201.2 690,206.8 670,209.5 626.2,211.8 626.2,209.2 637.5,208.8 642.5,203.8 655,207.5 672.5,203.8 683.8,195.5 678.8,197.5 663.8,183.8 660,180 648.8,173.8 647.5,166.2 644.2,161.2 643.8,158.8 650,148.8 648,128.8 646.2,129.5 645,125.5 642.5,127.5 641.2,124.5 638.8,127 631.2,122.5 633,115 630,115 629.5,121.2 628,117 626.2,122.5 623.8,125 623.2,128.8 620.8,127.5 618.8,140 614.5,143.8 609.5,138.2 607.5,139.5 616.2,146.2 611.2,156.2 610,185 605,193.8 603.8,188.2 593.8,192 591.2,185 596.2,184.5 577.5,178.8 571.2,182 570,178.8 564.5,175.8 557.5,180 553.8,180.5 555,188 552.5,186.2 545,184.5 543.8,189.5 537.5,192.5 534.5,192 532.5,186.2 531.2,190 522.5,188 522,185 520,187.5 519.2,184.5 515,182.5 513.8,174.2 512.5,182 493.8,188.2 481.2,179.5 475,180 468.8,175 467,170.5 462.5,172.5 451.2,171.2 452.5,173.8 465,176.2 465,178.8 437.5,179.5 422,182 420,186.2 418.8,184.5 383,195.5 381.2,190 389.5,187.5 381.2,187.5 383.8,185 376.2,184.5 377,181.8 369.5,182 365,185 365,187.5 370,195 356.2,204.5 349.5,218.8 347,216.2 346.2,217 343.8,218.8 342,213.8 341.2,218 335,216.2 326.2,218 323.8,213 322.5,218 316.2,220 313.8,218 312.5,221.2 306.2,220 296.2,222 294.5,225.5 290,230 284,234.5 286.2,237.5 282.5,241.2 277.5,245 280,246.2 271.8,253.8 275,263.8 270,262.5 280,266.2 288.8,266.2 298.8,262.5 300,265 293.8,268 297.5,273.8 303.8,278 312,280.8 322.5,277 325,267.5 326.2,256.2 330,252.5 341.2,250 342.5,247.5 348.8,244.5 353,242.5 356,246 352,250 349,255 352.5,257.5 347,259 346,262.5 354,264 355,260 363.8,261.2 365,273.8 367.5,275 370,271.2 373.8,272.5 371,276 375,278.8 377.5,280 382.5,277.5 386,278.8 390.5,275.5 391,277.5 387.5,281.2 383.8,280.5 378.8,283.8 376.2,288.8 371.2,286.2 373,282.5 362.5,286.2 360,290.5 371.2,296.2 360,297.5 355,293.8 347.5,291.2 345.5,295 351,298.8 353.8,305 355,307.5 355.8,316.2 348.8,315 346.2,308.8 342.5,307.5 343.8,302.5 337.5,300 340,305 336.2,295 343.8,305 337.5,302.5 325,301.2 326.2,305 315,300.5 311.2,305 313.8,310 322.5,311.2 323.8,316.2 328.8,320 315,318.8 308.8,315 306.2,318.8 316.2,327.5 310,328 305,328 307.5,332.5 315,335.5 312,337.5 303.8,336.2 302,340 310,347.5 316.2,350 318,354.5 325,353.8 330,357.5 336.2,362.5 337.5,367.5 333.8,365 328,368.8 336.2,372.5 347.5,369.5 357.5,371.2 359.5,374.5 362,371.2 368.8,372.5 365,376.2 363.8,380 367.5,382.5 370,384.5 373.8,379.5 378.8,380.5 380,378 383.8,381.2 386.2,383.8 388.8,388.8 393.8,387.5 395.5,383.8 398.8,380 400,386.2 401.2,389.5 403.8,385.5 405,391.2 410,390.5 411.2,397.5 408.8,400 413.8,400 415,406.2 417.5,410 420,407 423.8,407.5 425,405 428.8,407.5 432.5,406.2 431.2,409.5 438.8,413.8 429.2,411.2 425.5,412.5 429.2,416.2 424.2,417.5 421.8,412.5 416.8,417.5 423,422.5 429.2,420 431.8,421.2 425.5,425 419.2,423.8 418,428.8 425.5,427.5 426.8,433.8 420.5,435 416,428 413,435 409.2,436.2 408,446.2 404.2,442.5 400.5,435 391.8,430 387,427.5 390,431.7 375,441.7 370,450 361.7,459.2 357.5,462.5 358.3,455.8 370.8,447.5 375,438.3 380,423.3 370.8,433.3 368.3,429.2 365.8,431.7 358.3,429.2 360,423.3 356.7,420 348,406.2 341.8,401.2 347.5,400.5 342.5,405 340,401.8 330,398.8 318,397 320,392.5 312,392.5 317,385.5 313.8,384.5 307.5,391.8 300,388.8 287,384.5 278.8,387 275.5,383.8 277.5,378.8 286.2,377 280,375 287.5,370 286.2,368.8 277,370.5 279.5,366.2 274.5,365.5 276.2,361.2 290,360.5 288.8,355 286.2,358.8 280,358 267.5,356.2 266.2,353.8 261.2,356.2 258.8,350 257.5,358.8 247.5,357.5 243.8,351.2 240.5,348 240,351.2 231.2,347.5 232,345 228.8,343.2 227.5,345.8 218.8,341.2 217.5,346.2 213,341.2 213.8,337 206.2,338 201.2,343.8 208.8,350 211.2,355 215.5,353.8 217.5,358 232.5,361.2 235,366.2 238.8,363.8 233.8,368.8 231.2,372.5 233,377.5 230.5,381.2 235,385 237.5,387.5 233.8,390 229.5,386.2 225,386.2 227.5,392.5 223,393.8 227.5,395 225,398.8 231.2,401.2 230,406.2 237.5,402.5 233.8,408.8 225,416.2 217.5,422.5 211.2,423.8 210,427.5 198.8,431.2 195,425 197.5,422.5 190,418.8 196.2,417.5 188.8,415 191.2,405 194.5,401.2 193,397.5 190,402.5 187.5,395.5 183.8,396.2 181.2,391.8 177,393.8 175,389.5 172,395 167,396.2 167.5,387.5 161.2,386.2 158.8,380 152,385.5Z"/>
<path fill="#0080ff" d="M293.8,221.2 290.5,217 274.2,211.2 270.5,206 248,205 245,195 237.5,192 232.5,185.8 205.5,179.2 195,185.8 187.5,196.2 181.2,195.8 187,197.5 180,205 165,213.8 161.2,226.2 168.8,240.5 215.5,249.2 238,247 238.8,244.5 243.8,245.5 271.2,224.5 277.5,232.5 281.8,234.5 286.2,232.5 293,227.5Z"/>
<path fill="#0080ff" d="M705.5,184.8 709,191 710,188.5 712.5,188 713,194.5 716.5,192.5 718.5,194 724,192 725,187 726,189 727.5,186.5 728.5,188 729.5,186.8 730.5,187.8 741.5,173.5 747,172 749.5,168 744,165 754,165.5 758.5,171 748,176.2 742.5,176.5 742,181.5 739.5,183.5 744,187.2 739,192 728.5,193 739,193.5 737.5,195.3 716.5,199.3 715.5,198 724,195.5 720,195 707,196.5 708.5,193.5Z"/>
<path fill="#0080ff" d="M1042.5,193.8 1048,200.5 1055,197 1060,199.5 1063.8,193 1067.5,200.5 1071.2,200 1072.5,205 1081.2,201.2 1086.2,198.8 1087,202.5 1092.5,201.2 1096.2,198.8 1100,194.5 1102.5,198.8 1097.5,201.2 1096.2,208.8 1092.5,205 1087.5,206.2 1081.2,205 1080,210 1075,211.2 1077.5,215.5 1071.2,220 1067.5,218.8 1070,213 1063.2,212 1063.8,208 1056.2,207 1055,210.5 1047.5,209.5 1048,200.5Z"/>
<path fill="#0080ff" d="M1081.2,228.8 1083.8,227 1087.5,230 1087,223.8 1091.2,225.5 1090,232 1095.5,229.5 1096.2,234.5 1102.5,231.2 1102,227 1105,230.5 1111.2,228.8 1113.8,235.5 1117.5,234.5 1123.8,243.8 1128.8,238 1129.5,243.8 1135,243.8 1133.8,246.2 1136.2,249.5 1128.8,247.5 1120,250 1121.2,253 1115,246.2 1107.5,242.5 1100,237 1093.8,235.5 1090,233.8 1083.8,232Z"/>
<path fill="#0080ff" d="M380.5,424.8 375.8,438.8 388.5,431.8 386.5,428.3 382.5,426.5Z"/>
<path fill="#0080ff" d="M742,196.3 752,193 763,190.3 763,191.3 752,194.3Z"/>
<path fill="#0080ff" d="M661.2,177.5 665,174.5 667,177.5 663,181.2Z"/>
<path fill="#0080ff" d="M627.5,108.8 630,104.5 632.5,105.5 631.8,111.2 629.5,113.8Z"/>
<path fill="#00ffff" d="M154,188.5 160.5,189.5 167,198.8 159.5,211.2 154,216Z"/>
<path fill="#00ffff" d="M190,285 201.2,279.5 209.5,287 202.5,290.5 203,293.8 213.8,293.8 215,303.8 208.8,306.2 198.8,316.2 186.2,319.2 185,316.2 178.8,315 177.5,310 181.2,306.2 196.2,297.5 198.8,291.2 195,286.2Z"/>
<path fill="#00ffff" d="M1218.7,76.6 1225.3,82.7 1229.7,105.4 1247.3,103.7 1262.7,79.7 1256.4,98.7 1275.3,100 1277,95 1278.7,101 1252.7,108 1241.3,108.3 1234,117 1221,108.3 1223.3,89Z"/>
<path fill="none" d="M270,262.5 281.2,270"/>
<path fill="none" d="M181,195.5 187.5,197.5"/>
<path fill="none" d="M607,139 611.5,143.5"/>
<path fill="none" d="M1042.5,193.8 1048,200.5"/>
</g>
<path d="M244.40 539 V61 M437.70 539 V61 M631.25 539 V61 M824.75 539 V61 M1018.25 539 V61 M1211.75 539 V61 M154 157.50 H1308 M154 254.10 H1308 M154 350.90 H1308 M154 448.00 H1308" fill="none" stroke="#000" stroke-width="1.3" stroke-dasharray="1.39 1.39"/>
</g>
<rect x="154.5" y="61.5" width="1154" height="478" fill="none" stroke="#000" stroke-width="1"/>
<g shape-rendering="crispEdges"><rect x="1328" y="61.00" width="58" height="2.30" fill="#820000"/><rect x="1328" y="63.00" width="58" height="2.30" fill="#870000"/><rect x="1328" y="65.00" width="58" height="2.30" fill="#8c0000"/><rect x="1328" y="67.00" width="58" height="2.30" fill="#900000"/><rect x="1328" y="69.00" width="58" height="2.30" fill="#950000"/><rect x="1328" y="71.00" width="58" height="2.30" fill="#9a0000"/><rect x="1328" y="73.00" width="58" height="2.30" fill="#9f0000"/><rect x="1328" y="75.00" width="58" height="2.30" fill="#a40000"/><rect x="1328" y="77.00" width="58" height="2.30" fill="#a90000"/><rect x="1328" y="79.00" width="58" height="2.30" fill="#ae0000"/><rect x="1328" y="81.00" width="58" height="2.30" fill="#b20000"/><rect x="1328" y="83.00" width="58" height="2.30" fill="#b70000"/><rect x="1328" y="85.00" width="58" height="2.30" fill="#bc0000"/><rect x="1328" y="87.00" width="58" height="2.30" fill="#c10000"/><rect x="1328" y="89.00" width="58" height="2.30" fill="#c60000"/><rect x="1328" y="91.00" width="58" height="2.30" fill="#cb0000"/><rect x="1328" y="93.00" width="58" height="2.30" fill="#d00000"/><rect x="1328" y="95.00" width="58" height="2.30" fill="#d40000"/><rect x="1328" y="97.00" width="58" height="2.30" fill="#d90000"/><rect x="1328" y="99.00" width="58" height="2.30" fill="#de0000"/><rect x="1328" y="101.00" width="58" height="2.30" fill="#e30000"/><rect x="1328" y="103.00" width="58" height="2.30" fill="#e80000"/><rect x="1328" y="105.00" width="58" height="2.30" fill="#ed0400"/><rect x="1328" y="107.00" width="58" height="2.30" fill="#f10800"/><rect x="1328" y="109.00" width="58" height="2.30" fill="#f60c00"/><rect x="1328" y="111.00" width="58" height="2.30" fill="#fb1000"/><rect x="1328" y="113.00" width="58" height="2.30" fill="#ff1400"/><rect x="1328" y="115.00" width="58" height="2.30" fill="#ff1800"/><rect x="1328" y="117.00" width="58" height="2.30" fill="#ff1c00"/><rect x="1328" y="119.00" width="58" height="2.30" fill="#ff2000"/><rect x="1328" y="121.00" width="58" height="2.30" fill="#ff2400"/><rect x="1328" y="123.00" width="58" height="2.30" fill="#ff2700"/><rect x="1328" y="125.00" width="58" height="2.30" fill="#ff2b00"/><rect x="1328" y="127.00" width="58" height="2.30" fill="#ff2f00"/><rect x="1328" y="129.00" width="58" height="2.30" fill="#ff3300"/><rect x="1328" y="131.00" width="58" height="2.30" fill="#ff3700"/><rect x="1328" y="133.00" width="58" height="2.30" fill="#ff3b00"/><rect x="1328" y="135.00" width="58" height="2.30" fill="#ff3f00"/><rect x="1328" y="137.00" width="58" height="2.30" fill="#ff4300"/><rect x="1328" y="139.00" width="58" height="2.30" fill="#ff4700"/><rect x="1328" y="141.00" width="58" height="2.30" fill="#ff4b00"/><rect x="1328" y="143.00" width="58" height="2.30" fill="#ff4f00"/><rect x="1328" y="145.00" width="58" height="2.30" fill="#ff5300"/><rect x="1328" y="147.00" width="58" height="2.30" fill="#ff5700"/><rect x="1328" y="149.00" width="58" height="2.30" fill="#ff5b00"/><rect x="1328" y="151.00" width="58" height="2.30" fill="#ff5f00"/><rect x="1328" y="153.00" width="58" height="2.30" fill="#ff6300"/><rect x="1328" y="155.00" width="58" height="2.30" fill="#ff6700"/><rect x="1328" y="157.00" width="58" height="2.30" fill="#ff6b00"/><rect x="1328" y="159.00" width="58" height="2.30" fill="#ff6f00"/><rect x="1328" y="161.00" width="58" height="2.30" fill="#ff7300"/><rect x="1328" y="163.00" width="58" height="2.30" fill="#ff7700"/><rect x="1328" y="165.00" width="58" height="2.30" fill="#ff7a00"/><rect x="1328" y="167.00" width="58" height="2.30" fill="#ff7e00"/><rect x="1328" y="169.00" width="58" height="2.30" fill="#ff8200"/><rect x="1328" y="171.00" width="58" height="2.30" fill="#ff8600"/><rect x="1328" y="173.00" width="58" height="2.30" fill="#ff8a00"/><rect x="1328" y="175.00" width="58" height="2.30" fill="#ff8e00"/><rect x="1328" y="177.00" width="58" height="2.30" fill="#ff9200"/><rect x="1328" y="179.00" width="58" height="2.30" fill="#ff9600"/><rect x="1328" y="181.00" width="58" height="2.30" fill="#ff9a00"/><rect x="1328" y="183.00" width="58" height="2.30" fill="#ff9e00"/><rect x="1328" y="185.00" width="58" height="2.30" fill="#ffa200"/><rect x="1328" y="187.00" width="58" height="2.30" fill="#ffa600"/><rect x="1328" y="189.00" width="58" height="2.30" fill="#ffaa00"/><rect x="1328" y="191.00" width="58" height="2.30" fill="#ffae00"/><rect x="1328" y="193.00" width="58" height="2.30" fill="#ffb200"/><rect x="1328" y="195.00" width="58" height="2.30" fill="#ffb600"/><rect x="1328" y="197.00" width="58" height="2.30" fill="#ffba00"/><rect x="1328" y="199.00" width="58" height="2.30" fill="#ffbe00"/><rect x="1328" y="201.00" width="58" height="2.30" fill="#ffc200"/><rect x="1328" y="203.00" width="58" height="2.30" fill="#ffc600"/><rect x="1328" y="205.00" width="58" height="2.30" fill="#ffc900"/><rect x="1328" y="207.00" width="58" height="2.30" fill="#ffcd00"/><rect x="1328" y="209.00" width="58" height="2.30" fill="#ffd100"/><rect x="1328" y="211.00" width="58" height="2.30" fill="#ffd500"/><rect x="1328" y="213.00" width="58" height="2.30" fill="#ffd900"/><rect x="1328" y="215.00" width="58" height="2.30" fill="#ffdd00"/><rect x="1328" y="217.00" width="58" height="2.30" fill="#ffe100"/><rect x="1328" y="219.00" width="58" height="2.30" fill="#ffe500"/><rect x="1328" y="221.00" width="58" height="2.30" fill="#ffe900"/><rect x="1328" y="223.00" width="58" height="2.30" fill="#feed00"/><rect x="1328" y="225.00" width="58" height="2.30" fill="#fbf100"/><rect x="1328" y="227.00" width="58" height="2.30" fill="#f7f500"/><rect x="1328" y="229.00" width="58" height="2.30" fill="#f4f903"/><rect x="1328" y="231.00" width="58" height="2.30" fill="#f0fd06"/><rect x="1328" y="233.00" width="58" height="2.30" fill="#edff0a"/><rect x="1328" y="235.00" width="58" height="2.30" fill="#eaff0d"/><rect x="1328" y="237.00" width="58" height="2.30" fill="#e6ff11"/><rect x="1328" y="239.00" width="58" height="2.30" fill="#e3ff14"/><rect x="1328" y="241.00" width="58" height="2.30" fill="#dfff18"/><rect x="1328" y="243.00" width="58" height="2.30" fill="#dcff1b"/><rect x="1328" y="245.00" width="58" height="2.30" fill="#d8ff1e"/><rect x="1328" y="247.00" width="58" height="2.30" fill="#d5ff22"/><rect x="1328" y="249.00" width="58" height="2.30" fill="#d1ff25"/><rect x="1328" y="251.00" width="58" height="2.30" fill="#ceff29"/><rect x="1328" y="253.00" width="58" height="2.30" fill="#cbff2c"/><rect x="1328" y="255.00" width="58" height="2.30" fill="#c7ff30"/><rect x="1328" y="257.00" width="58" height="2.30" fill="#c4ff33"/><rect x="1328" y="259.00" width="58" height="2.30" fill="#c0ff37"/><rect x="1328" y="261.00" width="58" height="2.30" fill="#bdff3a"/><rect x="1328" y="263.00" width="58" height="2.30" fill="#b9ff3d"/><rect x="1328" y="265.00" width="58" height="2.30" fill="#b6ff41"/><rect x="1328" y="267.00" width="58" height="2.30" fill="#b2ff44"/><rect x="1328" y="269.00" width="58" height="2.30" fill="#afff48"/><rect x="1328" y="271.00" width="58" height="2.30" fill="#acff4b"/><rect x="1328" y="273.00" width="58" height="2.30" fill="#a8ff4f"/><rect x="1328" y="275.00" width="58" height="2.30" fill="#a5ff52"/><rect x="1328" y="277.00" width="58" height="2.30" fill="#a1ff56"/><rect x="1328" y="279.00" width="58" height="2.30" fill="#9eff59"/><rect x="1328" y="281.00" width="58" height="2.30" fill="#9aff5c"/><rect x="1328" y="283.00" width="58" height="2.30" fill="#97ff60"/><rect x="1328" y="285.00" width="58" height="2.30" fill="#93ff63"/><rect x="1328" y="287.00" width="58" height="2.30" fill="#90ff67"/><rect x="1328" y="289.00" width="58" height="2.30" fill="#8dff6a"/><rect x="1328" y="291.00" width="58" height="2.30" fill="#89ff6e"/><rect x="1328" y="293.00" width="58" height="2.30" fill="#86ff71"/><rect x="1328" y="295.00" width="58" height="2.30" fill="#82ff75"/><rect x="1328" y="297.00" width="58" height="2.30" fill="#7fff78"/><rect x="1328" y="299.00" width="58" height="2.30" fill="#7bff7b"/><rect x="1328" y="301.00" width="58" height="2.30" fill="#78ff7f"/><rect x="1328" y="303.00" width="58" height="2.30" fill="#75ff82"/><rect x="1328" y="305.00" width="58" height="2.30" fill="#71ff86"/><rect x="1328" y="307.00" width="58" height="2.30" fill="#6eff89"/><rect x="1328" y="309.00" width="58" height="2.30" fill="#6aff8d"/><rect x="1328" y="311.00" width="58" height="2.30" fill="#67ff90"/><rect x="1328" y="313.00" width="58" height="2.30" fill="#63ff93"/><rect x="1328" y="315.00" width="58" height="2.30" fill="#60ff97"/><rect x="1328" y="317.00" width="58" height="2.30" fill="#5cff9a"/><rect x="1328" y="319.00" width="58" height="2.30" fill="#59ff9e"/><rect x="1328" y="321.00" width="58" height="2.30" fill="#56ffa1"/><rect x="1328" y="323.00" width="58" height="2.30" fill="#52ffa5"/><rect x="1328" y="325.00" width="58" height="2.30" fill="#4fffa8"/><rect x="1328" y="327.00" width="58" height="2.30" fill="#4bffac"/><rect x="1328" y="329.00" width="58" height="2.30" fill="#48ffaf"/><rect x="1328" y="331.00" width="58" height="2.30" fill="#44ffb2"/><rect x="1328" y="333.00" width="58" height="2.30" fill="#41ffb6"/><rect x="1328" y="335.00" width="58" height="2.30" fill="#3dffb9"/><rect x="1328" y="337.00" width="58" height="2.30" fill="#3affbd"/><rect x="1328" y="339.00" width="58" height="2.30" fill="#37ffc0"/><rect x="1328" y="341.00" width="58" height="2.30" fill="#33ffc4"/><rect x="1328" y="343.00" width="58" height="2.30" fill="#30ffc7"/><rect x="1328" y="345.00" width="58" height="2.30" fill="#2cffcb"/><rect x="1328" y="347.00" width="58" height="2.30" fill="#29ffce"/><rect x="1328" y="349.00" width="58" height="2.30" fill="#25ffd1"/><rect x="1328" y="351.00" width="58" height="2.30" fill="#22ffd5"/><rect x="1328" y="353.00" width="58" height="2.30" fill="#1effd8"/><rect x="1328" y="355.00" width="58" height="2.30" fill="#1bffdc"/><rect x="1328" y="357.00" width="58" height="2.30" fill="#18ffdf"/><rect x="1328" y="359.00" width="58" height="2.30" fill="#14fee3"/><rect x="1328" y="361.00" width="58" height="2.30" fill="#11fae6"/><rect x="1328" y="363.00" width="58" height="2.30" fill="#0df6ea"/><rect x="1328" y="365.00" width="58" height="2.30" fill="#0af2ed"/><rect x="1328" y="367.00" width="58" height="2.30" fill="#06edf0"/><rect x="1328" y="369.00" width="58" height="2.30" fill="#03e9f4"/><rect x="1328" y="371.00" width="58" height="2.30" fill="#00e5f7"/><rect x="1328" y="373.00" width="58" height="2.30" fill="#00e1fb"/><rect x="1328" y="375.00" width="58" height="2.30" fill="#00dcfe"/><rect x="1328" y="377.00" width="58" height="2.30" fill="#00d8ff"/><rect x="1328" y="379.00" width="58" height="2.30" fill="#00d4ff"/><rect x="1328" y="381.00" width="58" height="2.30" fill="#00d0ff"/><rect x="1328" y="383.00" width="58" height="2.30" fill="#00cbff"/><rect x="1328" y="385.00" width="58" height="2.30" fill="#00c7ff"/><rect x="1328" y="387.00" width="58" height="2.30" fill="#00c3ff"/><rect x="1328" y="389.00" width="58" height="2.30" fill="#00beff"/><rect x="1328" y="391.00" width="58" height="2.30" fill="#00baff"/><rect x="1328" y="393.00" width="58" height="2.30" fill="#00b6ff"/><rect x="1328" y="395.00" width="58" height="2.30" fill="#00b2ff"/><rect x="1328" y="397.00" width="58" height="2.30" fill="#00adff"/><rect x="1328" y="399.00" width="58" height="2.30" fill="#00a9ff"/><rect x="1328" y="401.00" width="58" height="2.30" fill="#00a5ff"/><rect x="1328" y="403.00" width="58" height="2.30" fill="#00a1ff"/><rect x="1328" y="405.00" width="58" height="2.30" fill="#009cff"/><rect x="1328" y="407.00" width="58" height="2.30" fill="#0098ff"/><rect x="1328" y="409.00" width="58" height="2.30" fill="#0094ff"/><rect x="1328" y="411.00" width="58" height="2.30" fill="#0090ff"/><rect x="1328" y="413.00" width="58" height="2.30" fill="#008bff"/><rect x="1328" y="415.00" width="58" height="2.30" fill="#0087ff"/><rect x="1328" y="417.00" width="58" height="2.30" fill="#0083ff"/><rect x="1328" y="419.00" width="58" height="2.30" fill="#007eff"/><rect x="1328" y="421.00" width="58" height="2.30" fill="#007aff"/><rect x="1328" y="423.00" width="58" height="2.30" fill="#0076ff"/><rect x="1328" y="425.00" width="58" height="2.30" fill="#0072ff"/><rect x="1328" y="427.00" width="58" height="2.30" fill="#006dff"/><rect x="1328" y="429.00" width="58" height="2.30" fill="#0069ff"/><rect x="1328" y="431.00" width="58" height="2.30" fill="#0065ff"/><rect x="1328" y="433.00" width="58" height="2.30" fill="#0061ff"/><rect x="1328" y="435.00" width="58" height="2.30" fill="#005cff"/><rect x="1328" y="437.00" width="58" height="2.30" fill="#0058ff"/><rect x="1328" y="439.00" width="58" height="2.30" fill="#0054ff"/><rect x="1328" y="441.00" width="58" height="2.30" fill="#004fff"/><rect x="1328" y="443.00" width="58" height="2.30" fill="#004bff"/><rect x="1328" y="445.00" width="58" height="2.30" fill="#0047ff"/><rect x="1328" y="447.00" width="58" height="2.30" fill="#0043ff"/><rect x="1328" y="449.00" width="58" height="2.30" fill="#003eff"/><rect x="1328" y="451.00" width="58" height="2.30" fill="#003aff"/><rect x="1328" y="453.00" width="58" height="2.30" fill="#0036ff"/><rect x="1328" y="455.00" width="58" height="2.30" fill="#0032ff"/><rect x="1328" y="457.00" width="58" height="2.30" fill="#002dff"/><rect x="1328" y="459.00" width="58" height="2.30" fill="#0029ff"/><rect x="1328" y="461.00" width="58" height="2.30" fill="#0025ff"/><rect x="1328" y="463.00" width="58" height="2.30" fill="#0021ff"/><rect x="1328" y="465.00" width="58" height="2.30" fill="#001cff"/><rect x="1328" y="467.00" width="58" height="2.30" fill="#0018ff"/><rect x="1328" y="469.00" width="58" height="2.30" fill="#0014ff"/><rect x="1328" y="471.00" width="58" height="2.30" fill="#000fff"/><rect x="1328" y="473.00" width="58" height="2.30" fill="#000bff"/><rect x="1328" y="475.00" width="58" height="2.30" fill="#0007ff"/><rect x="1328" y="477.00" width="58" height="2.30" fill="#0003ff"/><rect x="1328" y="479.00" width="58" height="2.30" fill="#0000ff"/><rect x="1328" y="481.00" width="58" height="2.30" fill="#0000ff"/><rect x="1328" y="483.00" width="58" height="2.30" fill="#0000ff"/><rect x="1328" y="485.00" width="58" height="2.30" fill="#0000ff"/><rect x="1328" y="487.00" width="58" height="2.30" fill="#0000fb"/><rect x="1328" y="489.00" width="58" height="2.30" fill="#0000f6"/><rect x="1328" y="491.00" width="58" height="2.30" fill="#0000f1"/><rect x="1328" y="493.00" width="58" height="2.30" fill="#0000ed"/><rect x="1328" y="495.00" width="58" height="2.30" fill="#0000e8"/><rect x="1328" y="497.00" width="58" height="2.30" fill="#0000e3"/><rect x="1328" y="499.00" width="58" height="2.30" fill="#0000de"/><rect x="1328" y="501.00" width="58" height="2.30" fill="#0000d9"/><rect x="1328" y="503.00" width="58" height="2.30" fill="#0000d4"/><rect x="1328" y="505.00" width="58" height="2.30" fill="#0000d0"/><rect x="1328" y="507.00" width="58" height="2.30" fill="#0000cb"/><rect x="1328" y="509.00" width="58" height="2.30" fill="#0000c6"/><rect x="1328" y="511.00" width="58" height="2.30" fill="#0000c1"/><rect x="1328" y="513.00" width="58" height="2.30" fill="#0000bc"/><rect x="1328" y="515.00" width="58" height="2.30" fill="#0000b7"/><rect x="1328" y="517.00" width="58" height="2.30" fill="#0000b2"/><rect x="1328" y="519.00" width="58" height="2.30" fill="#0000ae"/><rect x="1328" y="521.00" width="58" height="2.30" fill="#0000a9"/><rect x="1328" y="523.00" width="58" height="2.30" fill="#0000a4"/><rect x="1328" y="525.00" width="58" height="2.30" fill="#00009f"/><rect x="1328" y="527.00" width="58" height="2.30" fill="#00009a"/><rect x="1328" y="529.00" width="58" height="2.30" fill="#000095"/><rect x="1328" y="531.00" width="58" height="2.30" fill="#000090"/><rect x="1328" y="533.00" width="58" height="2.30" fill="#00008c"/><rect x="1328" y="535.00" width="58" height="2.30" fill="#000087"/><rect x="1328" y="537.00" width="58" height="2.30" fill="#000082"/></g>
<rect x="1328.5" y="61.5" width="58" height="478" fill="none" stroke="#000" stroke-width="1"/>
<path d="M1386 539.00 h-5.5 M1386 479.25 h-5.5 M1386 419.50 h-5.5 M1386 359.75 h-5.5 M1386 300.00 h-5.5 M1386 240.25 h-5.5 M1386 180.50 h-5.5 M1386 120.75 h-5.5 M1386 61.00 h-5.5" stroke="#000" stroke-width="1" fill="none"/>
<g font-size="16.6" fill="#000">
<text x="1391.3" y="543.6" textLength="34.6" lengthAdjust="spacingAndGlyphs">19.0</text>
<text x="1391.3" y="483.9" textLength="34.6" lengthAdjust="spacingAndGlyphs">19.5</text>
<text x="1391.3" y="424.1" textLength="34.6" lengthAdjust="spacingAndGlyphs">20.0</text>
<text x="1391.3" y="364.4" textLength="34.6" lengthAdjust="spacingAndGlyphs">20.5</text>
<text x="1391.3" y="304.6" textLength="34.6" lengthAdjust="spacingAndGlyphs">21.0</text>
<text x="1391.3" y="244.8" textLength="34.6" lengthAdjust="spacingAndGlyphs">21.5</text>
<text x="1391.3" y="185.1" textLength="34.6" lengthAdjust="spacingAndGlyphs">22.0</text>
<text x="1391.3" y="125.3" textLength="34.6" lengthAdjust="spacingAndGlyphs">22.5</text>
<text x="1391.3" y="65.6" textLength="34.6" lengthAdjust="spacingAndGlyphs">23.0</text>
<text x="142.9" y="162.1" text-anchor="end" textLength="56.3" lengthAdjust="spacingAndGlyphs">30.5°N</text>
<text x="142.9" y="258.7" text-anchor="end" textLength="39.5" lengthAdjust="spacingAndGlyphs">30°N</text>
<text x="142.9" y="355.5" text-anchor="end" textLength="56.3" lengthAdjust="spacingAndGlyphs">29.5°N</text>
<text x="142.9" y="452.6" text-anchor="end" textLength="39.5" lengthAdjust="spacingAndGlyphs">29°N</text>
<text x="245.0" y="564" text-anchor="middle" textLength="44.8" lengthAdjust="spacingAndGlyphs">90°W</text>
<text x="438.3" y="564" text-anchor="middle" textLength="44.8" lengthAdjust="spacingAndGlyphs">89°W</text>
<text x="631.9" y="564" text-anchor="middle" textLength="44.8" lengthAdjust="spacingAndGlyphs">88°W</text>
<text x="825.4" y="564" text-anchor="middle" textLength="44.8" lengthAdjust="spacingAndGlyphs">87°W</text>
<text x="1018.9" y="564" text-anchor="middle" textLength="44.8" lengthAdjust="spacingAndGlyphs">86°W</text>
<text x="1212.3" y="564" text-anchor="middle" textLength="44.8" lengthAdjust="spacingAndGlyphs">85°W</text>
</g>
<text x="731.5" y="54" font-size="20.5" text-anchor="middle" textLength="467.5" lengthAdjust="spacingAndGlyphs" fill="#000">Water Temperature @28m - 2016041300_t018</text>
</svg>
</body></html>
